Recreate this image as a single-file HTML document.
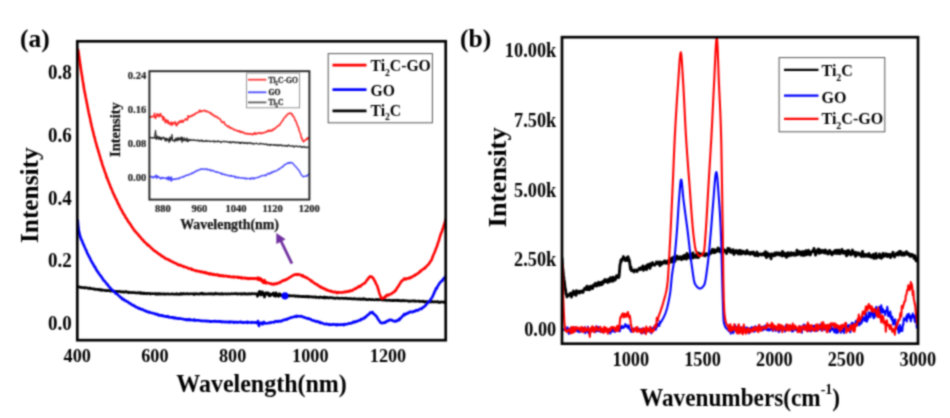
<!DOCTYPE html>
<html><head><meta charset="utf-8"><title>Spectra</title>
<style>html,body{margin:0;padding:0;background:#fff;width:950px;height:418px;overflow:hidden}svg{display:block}</style>
</head><body><svg width="950" height="418" viewBox="0 0 950 418"><defs><filter id="bl" color-interpolation-filters="sRGB" x="0" y="0" width="950" height="418" filterUnits="userSpaceOnUse"><feConvolveMatrix order="5" kernelMatrix="0.00023 0.00332 0.00809 0.00332 0.00023 0.00332 0.04785 0.11640 0.04785 0.00332 0.00809 0.11640 0.28313 0.11640 0.00809 0.00332 0.04785 0.11640 0.04785 0.00332 0.00023 0.00332 0.00809 0.00332 0.00023" edgeMode="duplicate" preserveAlpha="true"/></filter></defs><g filter="url(#bl)"><rect x="0" y="0" width="950" height="418" fill="#fff"/><clipPath id="ca"><rect x="77.3" y="41.3" width="368.4" height="298.9"/></clipPath><clipPath id="cb"><rect x="562" y="37.2" width="356" height="306.5"/></clipPath><clipPath id="ci"><rect x="149.4" y="71.2" width="160" height="128.4"/></clipPath><g clip-path="url(#ca)"><polyline points="77.0,286.8 77.5,286.9 78.0,286.9 78.5,286.8 79.0,287.0 79.5,286.9 80.0,287.2 80.5,287.6 81.0,287.2 81.5,287.3 82.0,287.6 82.5,287.7 83.0,287.7 83.5,287.5 84.0,287.8 84.5,288.0 85.0,287.6 85.5,287.9 86.0,287.6 86.5,287.8 87.0,287.7 87.5,288.2 88.0,288.0 88.5,288.5 89.0,288.5 89.5,288.5 90.0,287.9 90.5,288.5 91.0,288.7 91.5,288.8 92.0,288.5 92.5,288.8 93.0,288.7 93.5,288.8 94.0,289.3 94.5,288.9 95.0,289.2 95.5,289.5 96.0,289.2 96.5,289.4 97.0,289.5 97.5,289.5 98.0,289.3 98.5,289.6 99.0,290.0 99.5,289.4 100.0,290.0 100.5,289.9 101.0,289.7 101.5,290.5 102.0,290.2 102.5,289.8 103.0,290.1 103.5,290.3 104.0,290.2 104.5,290.5 105.0,290.3 105.5,290.6 106.0,290.8 106.5,290.3 107.0,290.6 107.5,290.5 108.0,290.7 108.5,290.4 109.0,290.6 109.5,290.7 110.0,291.1 110.5,291.2 111.0,290.6 111.5,290.8 112.0,291.2 112.5,290.6 113.0,291.0 113.5,291.1 114.0,291.5 114.5,291.4 115.0,291.2 115.5,291.2 116.0,291.3 116.5,291.8 117.0,291.3 117.5,291.4 118.0,291.6 118.5,291.5 119.0,291.5 119.5,291.3 120.0,291.6 120.5,291.6 121.0,292.0 121.5,291.9 122.0,291.8 122.5,292.0 123.0,291.8 123.5,292.2 124.0,291.9 124.5,292.1 125.0,291.7 125.5,292.1 126.0,291.7 126.5,291.6 127.0,292.1 127.5,292.0 128.0,292.3 128.5,292.8 129.0,292.1 129.5,292.2 130.0,292.5 130.5,292.6 131.0,292.4 131.5,292.5 132.0,292.7 132.5,292.7 133.0,292.4 133.5,292.6 134.0,292.7 134.5,292.5 135.0,292.8 135.5,292.6 136.0,293.1 136.5,292.9 137.0,292.9 137.5,292.8 138.0,292.9 138.5,292.5 139.0,292.7 139.5,293.2 140.0,292.6 140.5,293.3 141.0,292.7 141.5,293.4 142.0,293.0 142.5,293.4 143.0,293.3 143.5,292.9 144.0,293.7 144.5,293.7 145.0,293.4 145.5,293.4 146.0,293.4 146.5,293.2 147.0,293.8 147.5,293.4 148.0,293.5 148.5,293.4 149.0,293.4 149.5,293.3 150.0,294.0 150.5,293.6 151.0,293.9 151.5,293.7 152.0,293.6 152.5,293.7 153.0,293.6 153.5,293.8 154.0,293.7 154.5,293.7 155.0,293.5 155.5,293.7 156.0,294.3 156.5,293.7 157.0,293.6 157.5,294.0 158.0,294.3 158.5,293.6 159.0,293.9 159.5,293.8 160.0,293.5 160.5,294.2 161.0,294.0 161.5,294.0 162.0,293.8 162.5,294.1 163.0,293.9 163.5,294.0 164.0,293.7 164.5,293.7 165.0,294.3 165.5,293.9 166.0,294.1 166.5,294.0 167.0,293.9 167.5,293.9 168.0,294.2 168.5,293.9 169.0,294.0 169.5,294.0 170.0,294.3 170.5,294.2 171.0,294.1 171.5,293.9 172.0,293.7 172.5,294.2 173.0,294.2 173.5,294.0 174.0,294.1 174.5,294.2 175.0,294.2 175.5,294.2 176.0,293.9 176.5,294.4 177.0,293.7 177.5,294.2 178.0,294.1 178.5,294.2 179.0,294.5 179.5,294.4 180.0,293.7 180.5,293.6 181.0,294.2 181.5,293.7 182.0,294.0 182.5,294.2 183.0,293.6 183.5,293.4 184.0,294.0 184.5,294.0 185.0,293.9 185.5,294.0 186.0,293.8 186.5,293.6 187.0,293.9 187.5,293.7 188.0,293.6 188.5,294.1 189.0,293.9 189.5,294.1 190.0,293.7 190.5,293.8 191.0,293.7 191.5,293.7 192.0,294.0 192.5,293.8 193.0,294.0 193.5,294.0 194.0,294.5 194.5,293.6 195.0,294.2 195.5,293.9 196.0,293.9 196.5,293.6 197.0,293.8 197.5,294.1 198.0,293.9 198.5,294.0 199.0,293.9 199.5,294.2 200.0,293.9 200.5,293.4 201.0,293.8 201.5,293.4 202.0,293.1 202.5,293.8 203.0,294.3 203.5,293.9 204.0,293.6 204.5,293.7 205.0,294.2 205.5,294.0 206.0,293.9 206.5,293.9 207.0,293.9 207.5,294.1 208.0,294.0 208.5,294.0 209.0,293.6 209.5,294.0 210.0,293.7 210.5,294.2 211.0,293.6 211.5,293.9 212.0,293.9 212.5,293.6 213.0,294.3 213.5,294.3 214.0,293.8 214.5,294.1 215.0,294.0 215.5,293.2 216.0,293.9 216.5,293.9 217.0,293.9 217.5,293.6 218.0,293.8 218.5,293.8 219.0,294.2 219.5,293.9 220.0,293.9 220.5,294.2 221.0,293.7 221.5,293.8 222.0,293.4 222.5,294.2 223.0,294.1 223.5,294.1 224.0,294.0 224.5,293.9 225.0,293.9 225.5,293.8 226.0,293.8 226.5,293.9 227.0,294.2 227.5,294.0 228.0,293.8 228.5,293.7 229.0,293.7 229.5,294.2 230.0,294.0 230.5,293.9 231.0,293.7 231.5,293.6 232.0,293.8 232.5,294.0 233.0,293.7 233.5,293.8 234.0,293.8 234.5,293.9 235.0,293.4 235.5,293.8 236.0,293.6 236.5,294.0 237.0,293.6 237.5,294.0 238.0,294.2 238.5,293.7 239.0,293.7 239.5,293.9 240.0,293.8 240.5,293.6 241.0,293.9 241.5,294.3 242.0,293.7 242.5,293.8 243.0,293.5 243.5,293.9 244.0,293.5 244.5,293.5 245.0,294.1 245.5,293.6 246.0,294.1 246.5,294.2 247.0,293.9 247.5,293.9 248.0,294.3 248.5,293.8 249.0,293.7 249.5,293.5 250.0,293.8 250.5,294.2 251.0,294.0 251.5,293.6 252.0,293.6 252.5,293.7 253.0,293.9 253.5,293.7 254.0,293.9 254.5,293.9 255.0,293.7 255.5,293.8 256.0,293.9 256.5,293.8 257.0,294.5 257.5,296.3 258.0,294.6 258.5,293.9 259.0,291.7 259.5,294.4 260.0,291.4 260.5,292.1 261.0,295.1 261.5,294.9 262.0,293.8 262.5,291.8 263.0,293.6 263.5,293.2 264.0,295.0 264.5,297.1 265.0,294.5 265.5,293.2 266.0,292.7 266.5,294.2 267.0,294.1 267.5,292.9 268.0,294.5 268.5,292.9 269.0,295.9 269.5,295.9 270.0,295.9 270.5,294.0 271.0,295.3 271.5,294.5 272.0,294.2 272.5,294.3 273.0,293.1 273.5,292.9 274.0,295.9 274.5,294.6 275.0,295.2 275.5,296.3 276.0,292.7 276.5,294.0 277.0,295.3 277.5,295.6 278.0,294.7 278.5,296.5 279.0,295.5 279.5,293.7 280.0,294.1 280.5,295.5 281.0,295.5 281.5,294.9 282.0,295.8 282.5,295.6 283.0,295.8 283.5,295.4 284.0,295.5 284.5,295.3 285.0,296.2 285.5,295.6 286.0,296.1 286.5,295.5 287.0,295.7 287.5,295.3 288.0,295.7 288.5,296.0 289.0,295.5 289.5,296.1 290.0,296.0 290.5,295.6 291.0,295.8 291.5,295.8 292.0,296.0 292.5,295.9 293.0,295.8 293.5,296.0 294.0,295.8 294.5,295.8 295.0,296.1 295.5,296.4 296.0,295.8 296.5,296.2 297.0,296.1 297.5,296.0 298.0,296.5 298.5,296.2 299.0,296.7 299.5,296.2 300.0,296.5 300.5,296.4 301.0,296.3 301.5,296.6 302.0,296.5 302.5,296.7 303.0,296.5 303.5,296.3 304.0,296.6 304.5,296.6 305.0,296.9 305.5,296.4 306.0,296.7 306.5,296.3 307.0,296.9 307.5,296.5 308.0,296.3 308.5,296.8 309.0,297.1 309.5,296.5 310.0,296.6 310.5,296.7 311.0,296.7 311.5,297.1 312.0,296.8 312.5,296.8 313.0,297.2 313.5,296.9 314.0,297.2 314.5,296.9 315.0,296.8 315.5,296.7 316.0,297.7 316.5,297.1 317.0,297.3 317.5,297.3 318.0,297.3 318.5,297.3 319.0,297.8 319.5,297.1 320.0,297.0 320.5,297.2 321.0,297.1 321.5,297.6 322.0,297.7 322.5,297.3 323.0,297.2 323.5,297.5 324.0,297.9 324.5,296.9 325.0,297.8 325.5,297.4 326.0,297.9 326.5,297.4 327.0,297.6 327.5,297.4 328.0,297.5 328.5,298.1 329.0,298.0 329.5,297.7 330.0,297.6 330.5,297.4 331.0,297.8 331.5,297.9 332.0,297.9 332.5,297.9 333.0,297.7 333.5,298.0 334.0,298.0 334.5,298.4 335.0,298.5 335.5,298.1 336.0,297.9 336.5,298.1 337.0,298.0 337.5,298.0 338.0,298.2 338.5,298.0 339.0,298.4 339.5,298.3 340.0,298.4 340.5,298.3 341.0,298.2 341.5,298.1 342.0,298.3 342.5,298.3 343.0,298.5 343.5,298.4 344.0,298.1 344.5,298.5 345.0,298.2 345.5,298.4 346.0,298.5 346.5,298.1 347.0,298.6 347.5,298.7 348.0,298.6 348.5,298.6 349.0,298.6 349.5,298.5 350.0,298.7 350.5,298.6 351.0,298.8 351.5,298.5 352.0,298.9 352.5,298.9 353.0,298.8 353.5,298.8 354.0,299.0 354.5,298.5 355.0,299.0 355.5,299.0 356.0,299.0 356.5,299.1 357.0,298.8 357.5,299.0 358.0,299.2 358.5,299.2 359.0,299.1 359.5,298.7 360.0,299.3 360.5,299.4 361.0,299.4 361.5,299.2 362.0,298.8 362.5,299.4 363.0,299.2 363.5,298.6 364.0,299.4 364.5,298.9 365.0,299.0 365.5,299.2 366.0,299.7 366.5,299.3 367.0,299.4 367.5,299.8 368.0,299.8 368.5,299.4 369.0,299.4 369.5,299.2 370.0,299.3 370.5,299.6 371.0,299.6 371.5,299.6 372.0,299.8 372.5,299.4 373.0,299.6 373.5,299.8 374.0,299.8 374.5,299.9 375.0,299.8 375.5,299.6 376.0,299.8 376.5,299.5 377.0,299.3 377.5,299.9 378.0,299.8 378.5,299.9 379.0,299.4 379.5,299.7 380.0,299.7 380.5,299.7 381.0,299.3 381.5,299.8 382.0,300.1 382.5,300.0 383.0,299.8 383.5,300.0 384.0,300.2 384.5,299.3 385.0,300.0 385.5,300.2 386.0,300.2 386.5,300.5 387.0,300.4 387.5,300.2 388.0,300.2 388.5,300.4 389.0,300.0 389.5,300.2 390.0,300.4 390.5,300.7 391.0,300.2 391.5,300.2 392.0,300.3 392.5,300.6 393.0,300.3 393.5,300.7 394.0,300.1 394.5,300.3 395.0,300.3 395.5,300.6 396.0,300.7 396.5,300.1 397.0,300.2 397.5,300.6 398.0,300.3 398.5,300.1 399.0,300.8 399.5,300.7 400.0,300.7 400.5,300.5 401.0,300.9 401.5,300.6 402.0,300.9 402.5,300.4 403.0,300.5 403.5,300.7 404.0,300.5 404.5,300.9 405.0,300.8 405.5,300.5 406.0,300.8 406.5,300.7 407.0,301.0 407.5,300.7 408.0,300.7 408.5,301.2 409.0,301.4 409.5,301.4 410.0,300.9 410.5,301.0 411.0,301.3 411.5,300.9 412.0,300.8 412.5,301.0 413.0,301.1 413.5,300.8 414.0,300.7 414.5,300.7 415.0,301.3 415.5,300.9 416.0,301.1 416.5,301.2 417.0,301.3 417.5,301.1 418.0,301.3 418.5,301.0 419.0,301.2 419.5,301.0 420.0,301.6 420.5,301.3 421.0,301.2 421.5,301.3 422.0,301.3 422.5,301.6 423.0,301.0 423.5,301.2 424.0,301.4 424.5,302.1 425.0,301.7 425.5,301.5 426.0,301.7 426.5,302.1 427.0,301.5 427.5,301.5 428.0,301.9 428.5,301.8 429.0,301.8 429.5,301.6 430.0,302.2 430.5,302.1 431.0,301.9 431.5,301.9 432.0,301.3 432.5,302.0 433.0,301.8 433.5,302.0 434.0,302.0 434.5,301.8 435.0,301.5 435.5,302.0 436.0,301.8 436.5,301.9 437.0,301.8 437.5,301.9 438.0,301.5 438.5,302.4 439.0,302.1 439.5,302.4 440.0,302.6 440.5,302.1 441.0,301.7 441.5,302.0 442.0,301.9 442.5,302.1 443.0,302.3 443.5,301.8 444.0,302.4 444.5,301.9 445.0,302.4 445.5,302.3 446.0,302.3" fill="none" stroke="#000" stroke-width="2.6" stroke-linejoin="round" stroke-linecap="round" /><polyline points="77.8,220.4 78.3,227.0 78.8,230.6 79.3,232.7 79.8,234.9 80.3,236.8 80.8,238.2 81.3,239.4 81.8,240.5 82.3,241.4 82.8,243.1 83.3,244.0 83.8,245.1 84.3,246.3 84.8,247.5 85.3,248.5 85.8,249.7 86.3,250.5 86.8,251.8 87.3,253.5 87.8,254.0 88.3,255.0 88.8,256.2 89.3,257.2 89.8,257.7 90.3,258.9 90.8,260.2 91.3,260.9 91.8,261.8 92.3,263.1 92.8,263.4 93.3,264.5 93.8,265.2 94.3,266.6 94.8,266.6 95.3,267.8 95.8,268.6 96.3,269.7 96.8,270.5 97.3,271.5 97.8,271.5 98.3,272.9 98.8,273.3 99.3,274.0 99.8,275.0 100.3,275.4 100.8,275.8 101.3,276.9 101.8,277.3 102.3,278.2 102.8,279.1 103.3,279.8 103.8,280.7 104.3,280.9 104.8,281.2 105.3,282.0 105.8,282.6 106.3,283.1 106.8,284.1 107.3,284.4 107.8,284.7 108.3,285.9 108.8,286.3 109.3,286.9 109.8,287.4 110.3,288.1 110.8,288.4 111.3,289.3 111.8,289.6 112.3,290.1 112.8,290.6 113.3,290.6 113.8,291.4 114.3,291.8 114.8,292.4 115.3,292.5 115.8,293.7 116.3,293.7 116.8,293.8 117.3,294.1 117.8,294.9 118.3,295.4 118.8,295.6 119.3,296.3 119.8,296.5 120.3,297.2 120.8,297.2 121.3,297.8 121.8,298.4 122.3,299.2 122.8,298.7 123.3,299.1 123.8,299.4 124.3,300.2 124.8,300.0 125.3,300.5 125.8,301.0 126.3,301.1 126.8,301.4 127.3,301.8 127.8,301.7 128.3,302.2 128.8,302.8 129.3,303.2 129.8,303.4 130.3,303.3 130.8,303.9 131.3,304.5 131.8,304.8 132.3,304.9 132.8,304.9 133.3,305.6 133.8,305.5 134.3,305.7 134.8,306.0 135.3,306.8 135.8,306.8 136.3,307.2 136.8,307.1 137.3,307.7 137.8,307.5 138.3,307.8 138.8,308.7 139.3,308.5 139.8,308.4 140.3,308.7 140.8,309.1 141.3,309.5 141.8,309.3 142.3,309.2 142.8,309.7 143.3,310.0 143.8,310.2 144.3,310.7 144.8,310.6 145.3,310.9 145.8,310.7 146.3,311.3 146.8,311.8 147.3,311.7 147.8,311.7 148.3,311.8 148.8,312.4 149.3,311.9 149.8,312.3 150.3,312.6 150.8,312.8 151.3,312.7 151.8,313.0 152.3,313.0 152.8,313.2 153.3,313.3 153.8,313.2 154.3,313.6 154.8,314.0 155.3,313.7 155.8,314.0 156.3,314.4 156.8,314.1 157.3,314.5 157.8,314.3 158.3,315.0 158.8,315.4 159.3,315.5 159.8,315.0 160.3,315.4 160.8,315.3 161.3,315.4 161.8,315.9 162.3,315.3 162.8,316.0 163.3,315.9 163.8,316.3 164.3,316.1 164.8,316.0 165.3,316.3 165.8,316.6 166.3,316.5 166.8,316.7 167.3,316.5 167.8,316.2 168.3,317.1 168.8,317.1 169.3,317.1 169.8,317.1 170.3,317.5 170.8,317.2 171.3,317.2 171.8,317.4 172.3,317.8 172.8,317.3 173.3,318.0 173.8,317.6 174.3,317.6 174.8,318.3 175.3,318.0 175.8,317.8 176.3,318.1 176.8,318.5 177.3,318.6 177.8,318.3 178.3,318.6 178.8,318.7 179.3,318.4 179.8,318.7 180.3,318.7 180.8,318.6 181.3,318.7 181.8,318.9 182.3,319.0 182.8,318.9 183.3,319.0 183.8,319.4 184.3,319.3 184.8,319.5 185.3,319.6 185.8,319.5 186.3,320.0 186.8,319.3 187.3,319.7 187.8,319.5 188.3,320.1 188.8,320.1 189.3,319.2 189.8,319.5 190.3,320.0 190.8,320.1 191.3,320.1 191.8,319.9 192.3,320.1 192.8,320.2 193.3,320.1 193.8,320.4 194.3,319.6 194.8,320.4 195.3,320.0 195.8,320.5 196.3,320.3 196.8,320.2 197.3,320.5 197.8,320.2 198.3,320.3 198.8,320.1 199.3,320.6 199.8,320.7 200.3,320.9 200.8,320.6 201.3,321.0 201.8,320.8 202.3,320.8 202.8,321.0 203.3,321.1 203.8,320.8 204.3,320.8 204.8,320.9 205.3,321.0 205.8,320.8 206.3,321.3 206.8,321.0 207.3,321.2 207.8,320.9 208.3,321.2 208.8,321.3 209.3,321.1 209.8,321.7 210.3,321.3 210.8,321.7 211.3,321.5 211.8,321.2 212.3,321.3 212.8,321.5 213.3,321.4 213.8,321.4 214.3,321.4 214.8,321.0 215.3,321.4 215.8,321.0 216.3,321.6 216.8,321.4 217.3,321.4 217.8,321.5 218.3,321.7 218.8,321.3 219.3,321.2 219.8,321.4 220.3,321.2 220.8,321.5 221.3,322.1 221.8,321.5 222.3,321.9 222.8,321.5 223.3,321.9 223.8,321.8 224.3,321.8 224.8,322.0 225.3,322.3 225.8,321.9 226.3,321.9 226.8,321.7 227.3,322.1 227.8,321.9 228.3,322.2 228.8,322.0 229.3,322.4 229.8,321.5 230.3,322.0 230.8,322.3 231.3,322.0 231.8,321.9 232.3,322.0 232.8,321.8 233.3,322.1 233.8,322.7 234.3,322.4 234.8,321.9 235.3,322.0 235.8,322.1 236.3,322.4 236.8,322.0 237.3,322.0 237.8,322.4 238.3,322.5 238.8,322.2 239.3,322.0 239.8,321.9 240.3,322.1 240.8,321.7 241.3,322.5 241.8,322.2 242.3,322.4 242.8,322.8 243.3,322.6 243.8,322.1 244.3,322.6 244.8,322.7 245.3,322.2 245.8,322.2 246.3,322.4 246.8,322.0 247.3,322.8 247.8,321.8 248.3,322.2 248.8,322.4 249.3,322.4 249.8,322.5 250.3,322.5 250.8,322.4 251.3,322.8 251.8,322.0 252.3,322.5 252.8,322.3 253.3,322.5 253.8,322.6 254.3,322.3 254.8,322.4 255.5,322.7 256.0,322.6 256.5,322.4 257.0,323.1 257.5,323.3 258.0,321.0 258.5,323.2 259.0,326.0 259.5,324.0 260.0,323.5 260.5,323.0 261.0,322.7 261.5,323.1 262.0,322.7 262.5,324.3 263.0,322.9 263.5,322.8 264.0,321.9 264.5,323.3 265.0,323.1 265.5,323.2 266.0,323.5 266.5,323.3 267.0,323.2 267.5,323.2 268.0,323.0 268.5,322.9 269.0,322.8 269.5,323.0 270.0,322.5 270.5,323.0 271.0,322.6 271.5,322.3 272.0,322.3 272.5,322.2 273.0,322.3 273.5,322.0 274.0,322.4 274.5,321.8 275.0,321.3 275.5,321.6 276.0,321.2 276.5,321.6 277.0,321.8 277.5,321.6 278.0,321.0 278.5,321.1 279.0,321.6 279.5,321.2 280.0,321.0 280.5,321.2 281.0,321.4 281.5,321.0 282.0,320.6 282.5,320.5 283.0,320.5 283.5,320.0 284.0,319.8 284.5,319.9 285.0,319.5 285.5,319.5 286.0,319.4 286.5,319.8 287.0,318.8 287.5,318.8 288.0,318.7 288.5,318.6 289.0,318.6 289.5,318.1 290.0,317.8 290.5,317.5 291.0,317.5 291.5,317.7 292.0,317.4 292.5,317.0 293.0,317.0 293.5,317.0 294.0,317.0 294.5,316.6 295.0,316.6 295.5,316.1 296.0,316.2 296.5,316.8 297.0,315.8 297.5,316.3 298.0,316.4 298.5,316.2 299.0,316.1 299.5,316.3 300.0,316.4 300.5,316.4 301.0,316.0 301.5,316.5 302.0,316.4 302.5,316.6 303.0,317.0 303.5,317.2 304.0,317.4 304.5,317.2 305.0,317.7 305.5,317.9 306.0,318.1 306.5,318.3 307.0,318.1 307.5,318.3 308.0,318.8 308.5,318.4 309.0,319.0 309.5,319.0 310.0,319.2 310.5,319.1 311.0,319.5 311.5,319.9 312.0,320.3 312.5,320.5 313.0,320.4 313.5,320.5 314.0,320.5 314.5,321.0 315.0,320.9 315.5,321.3 316.0,321.7 316.5,321.4 317.0,321.2 317.5,321.5 318.0,321.5 318.5,321.7 319.0,322.5 319.5,322.3 320.0,322.1 320.5,322.8 321.0,323.1 321.5,322.8 322.0,322.9 322.5,323.1 323.0,323.4 323.5,323.6 324.0,323.9 324.5,324.0 325.0,324.1 325.5,324.3 326.0,324.2 326.5,323.7 327.0,324.2 327.5,324.3 328.0,324.2 328.5,324.6 329.0,324.4 329.5,324.2 330.0,324.9 330.5,324.7 331.0,324.6 331.5,324.8 332.0,324.8 332.5,324.7 333.0,324.0 333.5,324.4 334.0,324.5 334.5,324.4 335.0,324.7 335.5,325.0 336.0,324.5 336.5,324.4 337.0,325.2 337.5,324.6 338.0,324.4 338.5,324.8 339.0,324.8 339.5,324.5 340.0,324.9 340.5,324.6 341.0,324.5 341.5,324.7 342.0,324.8 342.5,324.4 343.0,324.6 343.5,324.5 344.0,325.1 344.5,324.2 345.0,324.6 345.5,324.2 346.0,324.1 346.5,324.2 347.0,324.2 347.5,324.1 348.0,323.8 348.5,323.5 349.0,323.3 349.5,323.5 350.0,323.4 350.5,323.4 351.0,323.1 351.5,323.1 352.0,323.1 352.5,322.6 353.0,322.0 353.5,321.9 354.0,321.7 354.5,322.3 355.0,321.6 355.5,321.9 356.0,321.6 356.5,321.7 357.0,321.4 357.5,321.0 358.0,320.8 358.5,320.7 359.0,320.5 359.5,320.2 360.0,320.1 360.5,320.3 361.0,319.2 361.5,319.5 362.0,318.9 362.5,319.0 363.0,318.9 363.5,318.3 364.0,318.3 364.5,317.4 365.0,317.8 365.5,317.0 366.0,316.9 366.5,316.4 367.0,315.2 367.5,315.2 368.0,314.9 368.5,314.7 369.0,313.9 369.5,313.5 370.0,312.7 370.5,313.1 371.0,312.9 371.5,312.3 372.0,312.2 372.5,312.0 373.0,313.0 373.5,313.8 374.0,313.9 374.5,314.6 375.0,315.0 375.5,315.2 376.0,316.3 376.5,316.3 377.0,317.2 377.5,318.1 378.0,319.1 378.5,319.8 379.0,320.6 379.5,321.1 380.0,321.7 380.5,322.6 381.0,322.9 381.5,323.0 382.0,323.1 382.5,323.2 383.0,322.8 383.5,322.7 384.0,322.5 384.5,322.7 385.0,322.5 385.5,322.6 386.0,321.4 386.5,321.3 387.0,321.4 387.5,320.8 388.0,320.5 388.5,320.8 389.0,320.1 389.5,319.8 390.0,319.7 390.5,320.1 391.0,320.2 391.5,319.9 392.0,320.1 392.5,320.7 393.0,320.9 393.5,320.8 394.0,321.3 394.5,321.4 395.0,320.9 395.5,321.3 396.0,321.4 396.5,321.0 397.0,320.4 397.5,320.6 398.0,320.5 398.5,320.4 399.0,319.0 399.5,319.8 400.0,318.3 400.5,318.4 401.0,318.0 401.5,317.4 402.0,316.7 402.5,315.9 403.0,315.9 403.5,315.1 404.0,314.2 404.5,315.2 405.0,314.4 405.5,314.4 406.0,313.5 406.5,313.9 407.0,313.7 407.5,313.5 408.0,313.0 408.5,312.5 409.0,312.6 409.5,311.9 410.0,311.9 410.5,312.2 411.0,311.8 411.5,311.9 412.0,311.8 412.5,312.2 413.0,311.9 413.5,311.4 414.0,311.6 414.5,311.0 415.0,310.9 415.5,311.1 416.0,310.4 416.5,310.5 417.0,310.1 417.5,310.3 418.0,310.5 418.5,309.7 419.0,309.7 419.5,309.2 420.0,309.0 420.5,308.7 421.0,309.1 421.5,309.0 422.0,308.3 422.5,307.6 423.0,307.6 423.5,307.0 424.0,306.9 424.5,306.4 425.0,305.9 425.5,305.6 426.0,304.8 426.5,304.3 427.0,303.5 427.5,303.3 428.0,302.5 428.5,302.3 429.0,301.5 429.5,301.1 430.0,300.6 430.5,299.5 431.0,298.9 431.5,298.1 432.0,297.6 432.5,296.8 433.0,295.6 433.5,294.2 434.0,293.6 434.5,291.7 435.0,291.4 435.5,289.9 436.0,288.4 436.5,288.9 437.0,287.8 437.5,286.3 438.0,285.8 438.5,285.0 439.0,284.3 439.5,283.1 440.0,282.6 440.5,282.3 441.0,281.6 441.5,281.2 442.0,280.5 442.5,280.6 443.0,279.3 443.5,279.1 444.0,278.1 444.5,277.7 445.0,277.8 445.5,276.5 446.0,276.1" fill="none" stroke="#0000ff" stroke-width="2.6" stroke-linejoin="round" stroke-linecap="round" /><polyline points="78.2,49.9 78.7,53.4 79.2,57.2 79.7,60.7 80.2,64.2 80.7,67.8 81.2,71.1 81.7,74.0 82.2,77.0 82.7,80.4 83.2,83.3 83.7,86.5 84.2,89.8 84.7,92.1 85.2,94.6 85.7,97.3 86.2,99.7 86.7,102.3 87.2,104.8 87.7,107.4 88.2,109.9 88.7,112.5 89.2,114.6 89.7,116.9 90.2,119.0 90.7,121.9 91.2,123.8 91.7,126.3 92.2,128.1 92.7,130.4 93.2,132.0 93.7,134.2 94.2,136.7 94.7,137.6 95.2,140.2 95.7,142.2 96.2,143.7 96.7,145.6 97.2,147.5 97.7,148.8 98.2,150.8 98.7,152.2 99.2,154.0 99.7,155.7 100.2,157.4 100.7,159.1 101.2,160.8 101.7,161.9 102.2,164.3 102.7,165.6 103.2,167.0 103.7,168.2 104.2,169.8 104.7,171.4 105.2,172.8 105.7,173.6 106.2,175.6 106.7,177.6 107.2,177.7 107.7,179.8 108.2,180.9 108.7,182.1 109.2,183.7 109.7,184.3 110.2,185.9 110.7,187.5 111.2,188.3 111.7,189.4 112.2,190.7 112.7,191.8 113.2,193.4 113.7,193.9 114.2,195.5 114.7,196.0 115.2,197.6 115.7,198.5 116.2,198.9 116.7,200.6 117.2,201.4 117.7,202.6 118.2,204.1 118.7,204.4 119.2,205.4 119.7,207.0 120.2,207.6 120.7,208.9 121.2,209.5 121.7,210.2 122.2,211.3 122.7,212.5 123.2,213.3 123.7,213.9 124.2,214.8 124.7,215.6 125.2,216.3 125.7,217.8 126.2,218.1 126.7,218.6 127.2,219.6 127.7,220.7 128.2,221.5 128.7,222.0 129.2,222.6 129.7,223.6 130.2,223.9 130.7,224.7 131.2,225.9 131.7,226.3 132.2,227.2 132.7,228.1 133.2,228.7 133.7,229.2 134.2,230.4 134.7,230.7 135.2,231.1 135.7,232.0 136.2,232.5 136.7,232.8 137.2,233.7 137.7,234.2 138.2,234.4 138.7,235.4 139.2,236.0 139.7,236.5 140.2,236.8 140.7,237.7 141.2,238.3 141.7,238.9 142.2,239.1 142.7,240.1 143.2,240.1 143.7,240.9 144.2,241.8 144.7,241.8 145.2,242.3 145.7,243.2 146.2,243.4 146.7,243.9 147.2,244.5 147.7,245.2 148.2,244.8 148.7,245.6 149.2,246.0 149.7,246.4 150.2,246.9 150.7,247.4 151.2,248.1 151.7,248.2 152.2,248.9 152.7,249.4 153.2,249.5 153.7,250.1 154.2,250.9 154.7,250.9 155.2,251.1 155.7,251.6 156.2,251.8 156.7,252.4 157.2,252.9 157.7,252.9 158.2,253.4 158.7,254.1 159.2,254.0 159.7,254.5 160.2,254.6 160.7,255.0 161.2,255.4 161.7,256.4 162.2,256.0 162.7,256.3 163.2,256.6 163.7,257.0 164.2,257.6 164.7,257.7 165.2,258.5 165.7,258.3 166.2,258.9 166.7,258.9 167.2,259.3 167.7,259.1 168.2,259.7 168.7,260.0 169.2,260.2 169.7,260.0 170.2,261.0 170.7,260.9 171.2,261.2 171.7,261.5 172.2,261.7 172.7,262.1 173.2,262.0 173.7,262.3 174.2,262.8 174.7,263.0 175.2,263.1 175.7,263.3 176.2,263.5 176.7,263.9 177.2,264.4 177.7,264.1 178.2,264.9 178.7,265.0 179.2,264.9 179.7,265.4 180.2,265.0 180.7,265.1 181.2,265.5 181.7,265.9 182.2,266.1 182.7,266.2 183.2,266.6 183.7,266.2 184.2,267.0 184.7,266.7 185.2,267.1 185.7,267.3 186.2,267.3 186.7,267.4 187.2,267.7 187.7,268.1 188.2,268.4 188.7,268.6 189.2,268.4 189.7,268.6 190.2,268.7 190.7,269.2 191.2,268.7 191.7,269.7 192.2,269.4 192.7,269.5 193.2,269.9 193.7,270.2 194.2,270.2 194.7,270.5 195.2,270.4 195.7,270.8 196.2,271.0 196.7,270.8 197.2,271.3 197.7,271.1 198.2,271.2 198.7,271.1 199.2,271.4 199.7,271.7 200.2,271.3 200.7,272.0 201.2,272.0 201.7,272.1 202.2,271.6 202.7,272.2 203.2,272.5 203.7,272.3 204.2,272.6 204.7,272.1 205.2,273.0 205.7,272.7 206.2,273.2 206.7,272.7 207.2,273.4 207.7,273.3 208.2,273.6 208.7,273.3 209.2,273.5 209.7,274.3 210.2,273.6 210.7,273.7 211.2,273.9 211.7,273.8 212.2,274.5 212.7,274.7 213.2,274.2 213.7,274.0 214.2,274.8 214.7,274.9 215.2,274.9 215.7,275.0 216.2,274.6 216.7,274.9 217.2,274.6 217.7,274.7 218.2,275.4 218.7,275.0 219.2,275.9 219.7,275.4 220.2,275.3 220.7,275.7 221.2,276.0 221.7,275.8 222.2,275.4 222.7,275.9 223.2,276.2 223.7,275.8 224.2,275.8 224.7,276.3 225.2,276.1 225.7,275.9 226.2,276.1 226.7,276.1 227.2,276.4 227.7,276.4 228.2,276.8 228.7,276.7 229.2,276.2 229.7,276.7 230.2,276.9 230.7,276.9 231.2,277.1 231.7,276.7 232.2,276.7 232.7,277.2 233.2,276.8 233.7,276.5 234.2,277.4 234.7,277.0 235.2,277.1 235.7,276.9 236.2,277.0 236.7,277.1 237.2,277.3 237.7,277.6 238.2,276.9 238.7,277.7 239.2,277.3 239.7,277.4 240.2,277.9 240.7,277.7 241.2,277.4 241.7,278.3 242.2,277.6 242.7,278.0 243.2,278.0 243.7,278.3 244.2,277.9 244.7,278.3 245.2,277.9 245.7,278.4 246.2,278.0 246.7,278.1 247.2,278.7 247.7,278.3 248.2,278.3 248.7,278.9 249.2,278.5 249.7,278.2 250.2,278.6 250.7,278.2 251.2,278.8 251.7,278.8 252.2,278.4 252.7,278.4 253.2,278.7 253.7,278.7 254.2,278.4 254.7,278.9 255.5,278.3 256.0,278.3 256.5,278.4 257.0,278.6 257.5,279.4 258.0,277.7 258.5,280.0 259.0,279.3 259.5,278.9 260.0,278.2 260.5,278.6 261.0,280.6 261.5,279.2 262.0,280.6 262.5,281.9 263.0,282.1 263.5,282.9 264.0,280.8 264.5,280.1 265.0,282.8 265.5,282.1 266.0,283.3 266.5,282.2 267.0,282.6 267.5,282.8 268.0,282.9 268.5,283.0 269.0,283.2 269.5,283.3 270.0,283.5 270.5,283.8 271.0,283.5 271.5,284.2 272.0,283.8 272.5,284.2 273.0,284.0 273.5,283.9 274.0,284.5 274.5,283.9 275.0,283.6 275.5,283.6 276.0,283.6 276.5,284.1 277.0,283.5 277.5,283.5 278.0,282.9 278.5,283.0 279.0,282.9 279.5,283.0 280.0,282.1 280.5,282.2 281.0,281.9 281.5,281.3 282.0,281.3 282.5,281.0 283.0,280.3 283.5,280.8 284.0,280.6 284.5,280.1 285.0,279.7 285.5,280.2 286.0,279.6 286.5,279.6 287.0,279.4 287.5,278.6 288.0,278.7 288.5,278.1 289.0,277.8 289.5,277.5 290.0,277.2 290.5,277.2 291.0,276.6 291.5,276.3 292.0,275.9 292.5,275.8 293.0,275.2 293.5,275.1 294.0,275.0 294.5,274.7 295.0,274.6 295.5,274.3 296.0,274.8 296.5,274.6 297.0,274.3 297.5,274.2 298.0,274.8 298.5,274.4 299.0,274.4 299.5,274.6 300.0,274.7 300.5,275.2 301.0,275.0 301.5,275.8 302.0,275.2 302.5,275.9 303.0,275.7 303.5,276.7 304.0,276.4 304.5,276.7 305.0,277.2 305.5,277.6 306.0,277.2 306.5,277.7 307.0,277.7 307.5,278.3 308.0,278.6 308.5,278.9 309.0,279.1 309.5,279.5 310.0,279.8 310.5,280.5 311.0,281.1 311.5,280.6 312.0,281.4 312.5,281.7 313.0,282.3 313.5,282.3 314.0,282.8 314.5,282.9 315.0,283.7 315.5,283.8 316.0,284.1 316.5,284.5 317.0,284.7 317.5,284.6 318.0,285.5 318.5,285.7 319.0,285.9 319.5,286.5 320.0,286.9 320.5,286.6 321.0,287.0 321.5,287.9 322.0,288.1 322.5,287.8 323.0,288.0 323.5,288.4 324.0,288.7 324.5,288.6 325.0,289.3 325.5,289.1 326.0,289.4 326.5,290.1 327.0,289.8 327.5,290.1 328.0,290.5 328.5,290.7 329.0,290.5 329.5,290.8 330.0,290.7 330.5,291.5 331.0,291.3 331.5,291.0 332.0,291.5 332.5,291.8 333.0,291.8 333.5,292.3 334.0,292.3 334.5,291.9 335.0,292.1 335.5,291.9 336.0,292.4 336.5,292.4 337.0,293.1 337.5,292.5 338.0,292.0 338.5,292.4 339.0,292.6 339.5,292.3 340.0,292.4 340.5,292.5 341.0,292.6 341.5,292.5 342.0,292.3 342.5,292.6 343.0,292.2 343.5,292.2 344.0,291.9 344.5,292.0 345.0,292.2 345.5,291.6 346.0,291.9 346.5,292.0 347.0,291.6 347.5,291.6 348.0,291.2 348.5,291.7 349.0,291.5 349.5,291.2 350.0,290.6 350.5,290.6 351.0,291.0 351.5,291.0 352.0,290.4 352.5,290.4 353.0,289.7 353.5,289.6 354.0,289.4 354.5,289.2 355.0,288.5 355.5,288.8 356.0,288.7 356.5,287.8 357.0,287.5 357.5,287.6 358.0,287.1 358.5,286.4 359.0,286.9 359.5,286.5 360.0,286.0 360.5,286.4 361.0,285.6 361.5,285.1 362.0,284.9 362.5,284.3 363.0,284.0 363.5,284.0 364.0,283.4 364.5,283.0 365.0,283.0 365.5,282.2 366.0,281.5 366.5,280.8 367.0,280.1 367.5,279.6 368.0,278.6 368.5,278.5 369.0,277.3 369.5,277.0 370.0,276.4 370.5,276.5 371.0,276.6 371.5,277.0 372.0,276.8 372.5,277.5 373.0,278.0 373.5,278.7 374.0,279.5 374.5,280.7 375.0,281.2 375.5,282.7 376.0,283.7 376.5,284.6 377.0,285.4 377.5,286.5 378.0,288.8 378.5,289.7 379.0,292.1 379.5,293.6 380.0,294.9 380.5,296.1 381.0,297.7 381.5,298.6 382.0,298.1 382.5,298.2 383.0,298.3 383.5,297.9 384.0,298.0 384.5,297.1 385.0,297.0 385.5,296.2 386.0,296.6 386.5,295.6 387.0,294.9 387.5,295.2 388.0,295.0 388.5,295.3 389.0,294.5 389.5,294.4 390.0,294.3 390.5,294.3 391.0,293.7 391.5,293.7 392.0,293.3 392.5,292.9 393.0,292.7 393.5,292.3 394.0,291.7 394.5,291.8 395.0,290.6 395.5,290.7 396.0,290.0 396.5,289.0 397.0,288.1 397.5,287.4 398.0,286.8 398.5,286.0 399.0,285.1 399.5,284.5 400.0,283.3 400.5,282.8 401.0,281.6 401.5,281.6 402.0,280.8 402.5,280.2 403.0,280.2 403.5,279.8 404.0,278.7 404.5,279.2 405.0,278.7 405.5,279.2 406.0,279.4 406.5,278.5 407.0,278.6 407.5,278.4 408.0,278.4 408.5,278.4 409.0,278.4 409.5,277.7 410.0,278.2 410.5,277.4 411.0,277.5 411.5,277.5 412.0,277.1 412.5,276.4 413.0,276.2 413.5,276.0 414.0,275.8 414.5,275.8 415.0,274.8 415.5,274.9 416.0,274.6 416.5,274.3 417.0,273.9 417.5,273.8 418.0,273.2 418.5,272.9 419.0,272.5 419.5,272.4 420.0,271.1 420.5,271.6 421.0,270.8 421.5,270.5 422.0,269.9 422.5,269.4 423.0,269.4 423.5,268.9 424.0,268.8 424.5,267.9 425.0,268.2 425.5,267.5 426.0,266.9 426.5,266.3 427.0,265.8 427.5,265.2 428.0,264.8 428.5,264.4 429.0,263.7 429.5,262.7 430.0,262.3 430.5,261.3 431.0,260.6 431.5,260.1 432.0,258.7 432.5,257.3 433.0,255.8 433.5,254.7 434.0,253.4 434.5,252.7 435.0,251.1 435.5,250.0 436.0,248.5 436.5,247.4 437.0,246.4 437.5,244.4 438.0,243.0 438.5,241.4 439.0,240.2 439.5,238.2 440.0,236.6 440.5,235.0 441.0,233.4 441.5,232.4 442.0,231.5 442.5,229.2 443.0,228.3 443.5,226.6 444.0,224.8 444.5,223.4 445.0,221.7 445.5,219.8 446.0,218.5" fill="none" stroke="#ff0000" stroke-width="2.6" stroke-linejoin="round" stroke-linecap="round" /><circle cx="285" cy="295.8" r="3.6" fill="#0000ff"/></g><rect x="77.3" y="41.3" width="368.4" height="298.9" fill="none" stroke="#000" stroke-width="2.7"/><text transform="translate(71.8,330.2) scale(0.95,1)" font-size="20" text-anchor="end" fill="#000" font-family="Liberation Serif" font-weight="bold" >0.0</text><text transform="translate(71.8,267.4) scale(0.95,1)" font-size="20" text-anchor="end" fill="#000" font-family="Liberation Serif" font-weight="bold" >0.2</text><text transform="translate(71.8,204.6) scale(0.95,1)" font-size="20" text-anchor="end" fill="#000" font-family="Liberation Serif" font-weight="bold" >0.4</text><text transform="translate(71.8,141.7) scale(0.95,1)" font-size="20" text-anchor="end" fill="#000" font-family="Liberation Serif" font-weight="bold" >0.6</text><text transform="translate(71.8,78.8) scale(0.95,1)" font-size="20" text-anchor="end" fill="#000" font-family="Liberation Serif" font-weight="bold" >0.8</text><text transform="translate(77.2,362.3) scale(0.96,1)" font-size="19" text-anchor="middle" fill="#000" font-family="Liberation Serif" font-weight="bold" >400</text><text transform="translate(154.9,362.3) scale(0.96,1)" font-size="19" text-anchor="middle" fill="#000" font-family="Liberation Serif" font-weight="bold" >600</text><text transform="translate(232.6,362.3) scale(0.96,1)" font-size="19" text-anchor="middle" fill="#000" font-family="Liberation Serif" font-weight="bold" >800</text><text transform="translate(310.3,362.3) scale(0.96,1)" font-size="19" text-anchor="middle" fill="#000" font-family="Liberation Serif" font-weight="bold" >1000</text><text transform="translate(388.0,362.3) scale(0.96,1)" font-size="19" text-anchor="middle" fill="#000" font-family="Liberation Serif" font-weight="bold" >1200</text><text transform="translate(176.3,391.8) scale(0.922,1)" font-size="26" text-anchor="start" fill="#000" font-family="Liberation Serif" font-weight="bold" >Wavelength(nm)</text><text transform="translate(37.8,243) rotate(-90)" font-size="25.3" font-family="Liberation Serif" font-weight="bold">Intensity</text><text x="20" y="46.7" font-size="25.5" text-anchor="start" fill="#000" font-family="Liberation Serif" font-weight="bold" >(a)</text><rect x="328.2" y="53.6" width="104.2" height="69.2" fill="#fff" stroke="#555" stroke-width="1"/><line x1="332.5" y1="65.2" x2="366.5" y2="65.2" stroke="#ff0000" stroke-width="2.8"/><line x1="332.5" y1="89.7" x2="366.5" y2="89.7" stroke="#0000ff" stroke-width="2.8"/><line x1="332.5" y1="110.9" x2="366.5" y2="110.9" stroke="#000" stroke-width="2.8"/><text transform="translate(370.5,71.4) scale(0.95,1)" font-size="16.5" font-family="Liberation Serif" font-weight="bold" >Ti<tspan font-size="10.2" dy="4.1">2</tspan><tspan dy="-4.1">C-GO</tspan></text><text transform="translate(370.5,95.8) scale(0.95,1)" font-size="16.5" text-anchor="start" fill="#000" font-family="Liberation Serif" font-weight="bold" >GO</text><text transform="translate(370.5,116.2) scale(0.95,1)" font-size="16.5" font-family="Liberation Serif" font-weight="bold" >Ti<tspan font-size="10.2" dy="4.1">2</tspan><tspan dy="-4.1">C</tspan></text><g clip-path="url(#ci)"><polyline points="150.0,116.7 150.5,117.3 151.0,117.1 151.5,116.5 152.0,116.5 152.5,116.6 153.0,116.3 153.5,116.5 154.0,116.7 154.5,113.3 155.0,117.5 155.5,118.4 156.0,116.8 156.5,116.8 157.0,113.8 157.5,115.4 158.0,114.5 158.5,114.8 159.0,116.7 159.5,114.5 160.0,115.4 160.5,113.5 161.0,115.9 161.5,116.6 162.0,116.0 162.5,116.5 163.0,120.1 163.5,116.9 164.0,117.6 164.5,118.4 165.0,121.2 165.5,122.7 166.0,120.9 166.5,119.9 167.0,120.5 167.5,122.6 168.0,120.5 168.5,123.6 169.0,123.9 169.5,122.5 170.0,123.5 170.5,123.8 171.0,125.0 171.5,122.1 172.0,124.9 172.5,123.2 173.0,122.8 173.5,123.9 174.0,123.5 174.5,122.6 175.0,121.8 175.5,122.5 176.0,125.3 176.5,125.8 177.0,124.1 177.5,124.6 178.0,122.4 178.5,122.8 179.0,123.0 179.5,121.2 180.0,121.1 180.5,122.2 181.0,121.5 181.5,120.4 182.0,122.0 182.5,121.0 183.0,122.3 183.5,120.8 184.0,120.2 184.5,120.4 185.0,119.7 185.5,118.8 186.0,118.8 186.5,119.8 187.0,119.4 187.5,119.8 188.0,115.9 188.5,117.1 189.0,116.7 189.5,117.1 190.0,116.1 190.5,116.2 191.0,116.4 191.5,115.9 192.0,115.1 192.5,115.9 193.0,115.5 193.5,114.6 194.0,114.8 194.5,113.9 195.0,114.4 195.5,113.6 196.0,113.1 196.5,113.0 197.0,112.6 197.5,112.7 198.0,112.5 198.5,112.2 199.0,111.7 199.5,110.3 200.0,111.6 200.5,110.6 201.0,111.4 201.5,111.6 202.0,111.1 202.5,110.8 203.0,110.8 203.5,110.8 204.0,110.6 204.5,110.6 205.0,110.5 205.5,111.4 206.0,111.0 206.5,111.6 207.0,111.2 207.5,111.6 208.0,111.7 208.5,112.1 209.0,112.5 209.5,112.6 210.0,112.5 210.5,112.7 211.0,114.0 211.5,113.5 212.0,113.8 212.5,114.9 213.0,115.1 213.5,115.2 214.0,115.1 214.5,116.6 215.0,116.1 215.5,116.5 216.0,116.6 216.5,116.4 217.0,116.7 217.5,117.8 218.0,118.1 218.5,118.2 219.0,118.3 219.5,118.6 220.0,119.4 220.5,119.4 221.0,120.8 221.5,121.4 222.0,122.5 222.5,122.2 223.0,122.1 223.5,122.4 224.0,121.8 224.5,123.4 225.0,124.0 225.5,124.9 226.0,125.1 226.5,125.5 227.0,125.7 227.5,126.3 228.0,126.9 228.5,126.2 229.0,126.7 229.5,126.6 230.0,128.1 230.5,128.2 231.0,128.3 231.5,127.8 232.0,128.6 232.5,128.6 233.0,129.0 233.5,129.1 234.0,129.6 234.5,129.5 235.0,130.2 235.5,130.2 236.0,130.2 236.5,130.4 237.0,130.5 237.5,131.2 238.0,130.9 238.5,131.3 239.0,131.2 239.5,130.9 240.0,132.1 240.5,131.5 241.0,132.3 241.5,132.4 242.0,131.7 242.5,132.2 243.0,132.5 243.5,132.6 244.0,132.6 244.5,133.5 245.0,133.2 245.5,133.6 246.0,133.4 246.5,133.8 247.0,133.5 247.5,133.8 248.0,134.2 248.5,134.0 249.0,133.8 249.5,133.6 250.0,134.1 250.5,134.1 251.0,133.9 251.5,133.7 252.0,134.2 252.5,134.9 253.0,133.8 253.5,134.0 254.0,134.0 254.5,132.7 255.0,133.8 255.5,133.4 256.0,134.2 256.5,133.5 257.0,133.2 257.5,133.4 258.0,133.4 258.5,133.1 259.0,133.2 259.5,132.6 260.0,133.0 260.5,133.3 261.0,133.7 261.5,133.1 262.0,132.8 262.5,133.1 263.0,132.9 263.5,133.1 264.0,132.8 264.5,132.2 265.0,132.2 265.5,132.1 266.0,132.0 266.5,131.9 267.0,131.3 267.5,130.7 268.0,131.2 268.5,130.5 269.0,131.2 269.5,131.0 270.0,130.2 270.5,131.0 271.0,130.9 271.5,130.4 272.0,130.8 272.5,130.6 273.0,129.1 273.5,129.7 274.0,129.2 274.5,128.9 275.0,128.8 275.5,127.8 276.0,127.5 276.5,127.1 277.0,126.7 277.5,126.6 278.0,125.7 278.5,125.4 279.0,125.6 279.5,124.9 280.0,124.7 280.5,123.2 281.0,122.9 281.5,122.2 282.0,121.6 282.5,120.5 283.0,120.3 283.5,119.0 284.0,118.3 284.5,117.6 285.0,117.3 285.5,116.3 286.0,116.4 286.5,115.5 287.0,114.9 287.5,114.3 288.0,114.0 288.5,113.9 289.0,113.5 289.5,113.1 290.0,113.3 290.5,113.1 291.0,113.9 291.5,113.9 292.0,113.8 292.5,115.8 293.0,116.0 293.5,116.3 294.0,117.5 294.5,118.1 295.0,120.3 295.5,120.7 296.0,121.0 296.5,123.0 297.0,123.8 297.5,126.1 298.0,126.4 298.5,127.5 299.0,130.1 299.5,131.5 300.0,132.8 300.5,133.6 301.0,136.1 301.5,138.2 302.0,138.1 302.5,140.5 303.0,140.5 303.5,141.8 304.0,140.9 304.5,140.4 305.0,140.6 305.5,140.0 306.0,139.3 306.5,139.5 307.0,138.7 307.5,137.9 308.0,139.1 308.5,137.8 309.0,137.4 309.5,137.5 310.0,136.4" fill="none" stroke="#ff2a2a" stroke-width="1.6" stroke-linejoin="round" stroke-linecap="round" /><polyline points="150.0,137.2 150.5,137.5 151.0,137.5 151.5,137.8 152.0,138.1 152.5,137.6 153.0,137.9 153.5,138.0 154.0,137.4 154.5,137.9 155.0,137.5 155.5,138.2 156.0,138.6 156.5,137.9 157.0,135.9 157.5,138.1 158.0,136.8 158.5,139.1 159.0,137.8 159.5,136.8 160.0,139.5 160.5,139.2 161.0,137.3 161.5,139.9 162.0,137.8 162.5,137.8 163.0,138.5 163.5,137.2 164.0,137.7 164.5,138.1 165.0,140.7 165.5,140.7 166.0,138.1 166.5,140.9 167.0,138.5 167.5,139.2 168.0,140.0 168.5,139.1 169.0,142.3 169.5,139.1 170.0,137.0 170.5,140.8 171.0,138.3 171.5,138.5 172.0,134.5 172.5,140.5 173.0,140.3 173.5,140.3 174.0,140.6 174.5,141.7 175.0,139.1 175.5,140.6 176.0,138.1 176.5,138.7 177.0,140.9 177.5,139.9 178.0,137.4 178.5,140.0 179.0,139.2 179.5,138.2 180.0,140.2 180.5,138.9 181.0,137.2 181.5,137.9 182.0,142.3 182.5,137.4 183.0,140.0 183.5,140.6 184.0,140.7 184.5,137.9 185.0,139.3 185.5,140.0 186.0,141.0 186.5,138.9 187.0,138.1 187.5,141.4 188.0,141.6 188.5,140.5 189.0,139.1 189.5,140.6 190.0,140.2 190.5,140.4 191.0,139.7 191.5,140.2 192.0,140.1 192.5,139.8 193.0,140.3 193.5,140.2 194.0,140.1 194.5,140.4 195.0,139.8 195.5,140.3 196.0,140.5 196.5,140.5 197.0,140.8 197.5,140.0 198.0,139.9 198.5,140.6 199.0,140.7 199.5,141.3 200.0,140.8 200.5,140.3 201.0,140.9 201.5,140.3 202.0,140.1 202.5,141.6 203.0,140.8 203.5,141.0 204.0,141.0 204.5,141.4 205.0,140.9 205.5,141.3 206.0,140.5 206.5,140.4 207.0,141.4 207.5,141.4 208.0,141.1 208.5,141.1 209.0,141.1 209.5,140.8 210.0,141.6 210.5,141.3 211.0,141.3 211.5,141.3 212.0,141.5 212.5,141.3 213.0,141.5 213.5,140.8 214.0,141.4 214.5,142.0 215.0,141.1 215.5,141.3 216.0,141.7 216.5,141.7 217.0,141.6 217.5,140.9 218.0,141.6 218.5,141.1 219.0,141.2 219.5,141.7 220.0,141.5 220.5,141.9 221.0,142.7 221.5,141.9 222.0,141.9 222.5,141.4 223.0,141.5 223.5,141.4 224.0,141.6 224.5,141.4 225.0,141.6 225.5,141.8 226.0,141.5 226.5,141.4 227.0,141.5 227.5,142.1 228.0,142.0 228.5,142.4 229.0,142.4 229.5,142.0 230.0,142.4 230.5,141.6 231.0,143.0 231.5,142.6 232.0,142.2 232.5,141.9 233.0,142.4 233.5,141.7 234.0,142.1 234.5,142.6 235.0,142.4 235.5,142.3 236.0,142.8 236.5,142.1 237.0,142.6 237.5,142.4 238.0,142.3 238.5,142.8 239.0,142.3 239.5,143.3 240.0,142.5 240.5,143.4 241.0,142.4 241.5,143.0 242.0,142.4 242.5,142.4 243.0,142.9 243.5,143.2 244.0,142.5 244.5,143.4 245.0,142.7 245.5,143.1 246.0,143.2 246.5,143.3 247.0,142.5 247.5,143.7 248.0,143.4 248.5,143.1 249.0,142.9 249.5,142.7 250.0,142.9 250.5,143.6 251.0,143.3 251.5,143.0 252.0,143.3 252.5,144.0 253.0,143.4 253.5,143.3 254.0,144.1 254.5,143.8 255.0,143.7 255.5,143.5 256.0,143.2 256.5,143.3 257.0,143.6 257.5,143.7 258.0,144.0 258.5,144.1 259.0,144.0 259.5,144.0 260.0,143.6 260.5,143.2 261.0,143.8 261.5,143.7 262.0,143.9 262.5,144.0 263.0,143.7 263.5,143.8 264.0,144.2 264.5,144.3 265.0,144.1 265.5,144.5 266.0,144.3 266.5,144.0 267.0,144.4 267.5,145.1 268.0,144.3 268.5,144.9 269.0,145.0 269.5,145.1 270.0,144.3 270.5,145.4 271.0,144.7 271.5,144.6 272.0,144.7 272.5,145.0 273.0,144.8 273.5,144.8 274.0,145.3 274.5,144.7 275.0,144.6 275.5,145.3 276.0,145.3 276.5,145.5 277.0,144.7 277.5,145.5 278.0,145.3 278.5,145.8 279.0,144.8 279.5,145.4 280.0,145.2 280.5,144.8 281.0,145.1 281.5,145.8 282.0,145.3 282.5,145.2 283.0,145.8 283.5,145.9 284.0,145.9 284.5,145.3 285.0,145.6 285.5,146.1 286.0,145.5 286.5,145.5 287.0,146.1 287.5,146.4 288.0,145.5 288.5,145.0 289.0,145.4 289.5,145.6 290.0,146.0 290.5,146.3 291.0,146.0 291.5,145.9 292.0,146.2 292.5,145.9 293.0,146.2 293.5,146.0 294.0,147.2 294.5,146.6 295.0,146.1 295.5,146.1 296.0,146.3 296.5,145.9 297.0,146.3 297.5,146.3 298.0,146.9 298.5,146.5 299.0,146.4 299.5,146.2 300.0,146.3 300.5,146.8 301.0,146.7 301.5,147.3 302.0,146.7 302.5,147.3 303.0,147.1 303.5,147.0 304.0,146.3 304.5,146.6 305.0,147.4 305.5,147.6 306.0,147.3 306.5,147.5 307.0,147.1 307.5,147.2 308.0,147.1 308.5,147.7 309.0,147.5 309.5,147.4 310.0,147.4" fill="none" stroke="#222" stroke-width="1.25" stroke-linejoin="round" stroke-linecap="round" /><polyline points="154.5,138 155.5,130 156.5,140" fill="none" stroke="#222" stroke-width="1.1"/><polyline points="150.0,176.6 150.5,176.5 151.0,176.3 151.5,177.1 152.0,176.7 152.5,176.7 153.0,177.9 153.5,177.6 154.0,176.8 154.5,177.3 155.0,176.1 155.5,176.5 156.0,175.2 156.5,178.1 157.0,175.6 157.5,177.8 158.0,176.6 158.5,176.5 159.0,177.2 159.5,177.7 160.0,178.0 160.5,179.0 161.0,177.9 161.5,178.4 162.0,177.3 162.5,178.4 163.0,178.0 163.5,177.6 164.0,178.0 164.5,178.1 165.0,178.4 165.5,178.6 166.0,178.0 166.5,177.9 167.0,179.2 167.5,177.3 168.0,178.2 168.5,180.0 169.0,176.7 169.5,178.4 170.0,179.5 170.5,177.7 171.0,181.1 171.5,177.0 172.0,180.3 172.5,179.6 173.0,179.5 173.5,179.1 174.0,179.3 174.5,178.9 175.0,179.4 175.5,178.8 176.0,178.9 176.5,179.2 177.0,178.5 177.5,178.6 178.0,178.7 178.5,178.1 179.0,178.7 179.5,178.3 180.0,177.5 180.5,177.8 181.0,177.4 181.5,177.3 182.0,177.3 182.5,176.8 183.0,177.1 183.5,176.4 184.0,176.7 184.5,176.2 185.0,176.3 185.5,175.6 186.0,175.4 186.5,175.0 187.0,175.3 187.5,175.2 188.0,175.4 188.5,174.9 189.0,174.4 189.5,174.1 190.0,174.1 190.5,173.8 191.0,174.1 191.5,173.7 192.0,173.0 192.5,172.8 193.0,173.2 193.5,172.6 194.0,172.2 194.5,172.4 195.0,171.7 195.5,171.5 196.0,171.2 196.5,170.5 197.0,171.1 197.5,170.3 198.0,170.2 198.5,170.0 199.0,170.2 199.5,169.8 200.0,169.6 200.5,169.0 201.0,169.3 201.5,168.8 202.0,169.2 202.5,169.1 203.0,168.9 203.5,169.5 204.0,169.1 204.5,169.1 205.0,169.0 205.5,168.9 206.0,169.3 206.5,169.5 207.0,168.8 207.5,169.7 208.0,169.6 208.5,169.9 209.0,169.9 209.5,169.5 210.0,169.7 210.5,170.8 211.0,170.4 211.5,170.1 212.0,170.8 212.5,170.8 213.0,170.5 213.5,170.5 214.0,170.9 214.5,171.6 215.0,171.7 215.5,171.8 216.0,172.1 216.5,172.3 217.0,171.6 217.5,172.3 218.0,172.3 218.5,172.4 219.0,172.7 219.5,173.0 220.0,173.1 220.5,172.9 221.0,173.3 221.5,174.3 222.0,173.5 222.5,173.5 223.0,174.2 223.5,174.4 224.0,174.5 224.5,174.2 225.0,175.0 225.5,174.6 226.0,174.6 226.5,174.9 227.0,175.2 227.5,175.5 228.0,175.6 228.5,175.5 229.0,175.9 229.5,175.7 230.0,176.1 230.5,175.5 231.0,175.5 231.5,176.4 232.0,175.8 232.5,176.2 233.0,176.4 233.5,176.4 234.0,176.5 234.5,177.2 235.0,176.1 235.5,177.2 236.0,177.7 236.5,177.1 237.0,177.2 237.5,177.5 238.0,178.0 238.5,177.1 239.0,177.6 239.5,177.6 240.0,177.9 240.5,177.9 241.0,178.1 241.5,177.8 242.0,178.1 242.5,177.9 243.0,178.0 243.5,178.2 244.0,178.2 244.5,178.0 245.0,178.9 245.5,178.4 246.0,178.1 246.5,178.8 247.0,178.3 247.5,178.7 248.0,178.6 248.5,178.7 249.0,178.6 249.5,178.4 250.0,178.6 250.5,179.2 251.0,177.9 251.5,178.5 252.0,178.6 252.5,178.1 253.0,177.9 253.5,178.9 254.0,178.0 254.5,178.7 255.0,178.1 255.5,177.8 256.0,177.8 256.5,177.8 257.0,177.8 257.5,177.4 258.0,177.2 258.5,177.1 259.0,177.3 259.5,177.0 260.0,176.3 260.5,176.2 261.0,176.3 261.5,175.9 262.0,175.8 262.5,175.5 263.0,175.5 263.5,175.6 264.0,175.6 264.5,175.2 265.0,175.6 265.5,174.8 266.0,175.7 266.5,174.8 267.0,174.5 267.5,174.0 268.0,173.2 268.5,173.8 269.0,173.7 269.5,174.0 270.0,172.9 270.5,173.6 271.0,172.8 271.5,172.9 272.0,171.7 272.5,172.3 273.0,171.9 273.5,172.0 274.0,171.6 274.5,171.0 275.0,171.4 275.5,171.1 276.0,170.9 276.5,170.8 277.0,170.6 277.5,170.0 278.0,169.3 278.5,169.1 279.0,169.6 279.5,169.1 280.0,168.5 280.5,168.0 281.0,167.8 281.5,167.4 282.0,166.9 282.5,166.4 283.0,166.9 283.5,165.9 284.0,165.3 284.5,164.7 285.0,164.5 285.5,164.6 286.0,164.3 286.5,163.7 287.0,163.5 287.5,163.2 288.0,162.7 288.5,163.2 289.0,162.8 289.5,163.3 290.0,162.3 290.5,162.5 291.0,162.8 291.5,162.6 292.0,162.6 292.5,163.0 293.0,163.7 293.5,164.3 294.0,164.6 294.5,165.5 295.0,166.0 295.5,166.4 296.0,166.9 296.5,167.3 297.0,168.1 297.5,168.8 298.0,169.2 298.5,170.1 299.0,170.6 299.5,171.2 300.0,172.1 300.5,173.5 301.0,174.2 301.5,175.2 302.0,175.4 302.5,176.1 303.0,176.7 303.5,176.8 304.0,176.3 304.5,176.4 305.0,176.4 305.5,176.0 306.0,176.3 306.5,176.2 307.0,175.5 307.5,175.9 308.0,174.8 308.5,174.4 309.0,173.8 309.5,173.0 310.0,172.6" fill="none" stroke="#4444ff" stroke-width="1.35" stroke-linejoin="round" stroke-linecap="round" /></g><rect x="149.4" y="71.2" width="160" height="128.4" fill="none" stroke="#222" stroke-width="1.9"/><text x="146.2" y="181.4" font-size="10.5" text-anchor="end" fill="#1a1a1a" font-family="Liberation Serif" font-weight="bold" stroke="#1a1a1a" stroke-width="0.2">0.00</text><text x="146.2" y="147.2" font-size="10.5" text-anchor="end" fill="#1a1a1a" font-family="Liberation Serif" font-weight="bold" stroke="#1a1a1a" stroke-width="0.2">0.08</text><text x="146.2" y="113.1" font-size="10.5" text-anchor="end" fill="#1a1a1a" font-family="Liberation Serif" font-weight="bold" stroke="#1a1a1a" stroke-width="0.2">0.16</text><text x="146.2" y="78.9" font-size="10.5" text-anchor="end" fill="#1a1a1a" font-family="Liberation Serif" font-weight="bold" stroke="#1a1a1a" stroke-width="0.2">0.24</text><text x="162.8" y="211.9" font-size="10.5" text-anchor="middle" fill="#1a1a1a" font-family="Liberation Serif" font-weight="bold" stroke="#1a1a1a" stroke-width="0.2">880</text><text x="199.4" y="211.9" font-size="10.5" text-anchor="middle" fill="#1a1a1a" font-family="Liberation Serif" font-weight="bold" stroke="#1a1a1a" stroke-width="0.2">960</text><text x="236.0" y="211.9" font-size="10.5" text-anchor="middle" fill="#1a1a1a" font-family="Liberation Serif" font-weight="bold" stroke="#1a1a1a" stroke-width="0.2">1040</text><text x="272.6" y="211.9" font-size="10.5" text-anchor="middle" fill="#1a1a1a" font-family="Liberation Serif" font-weight="bold" stroke="#1a1a1a" stroke-width="0.2">1120</text><text x="309.2" y="211.9" font-size="10.5" text-anchor="middle" fill="#1a1a1a" font-family="Liberation Serif" font-weight="bold" stroke="#1a1a1a" stroke-width="0.2">1200</text><text x="180.2" y="229.1" font-size="13.9" text-anchor="start" fill="#111" font-family="Liberation Serif" font-weight="bold" stroke="#111" stroke-width="0.25">Wavelength(nm)</text><text transform="translate(120.3,157) rotate(-90)" font-size="14.5" fill="#111" stroke="#111" stroke-width="0.25" font-family="Liberation Serif" font-weight="bold">Intensity</text><rect x="246.6" y="73.1" width="53" height="34.7" fill="#fff" stroke="#888" stroke-width="0.9"/><line x1="248" y1="79.7" x2="266.4" y2="79.7" stroke="#ff3030" stroke-width="1.7"/><line x1="248" y1="92.3" x2="266.4" y2="92.3" stroke="#4040ff" stroke-width="1.7"/><line x1="248" y1="102.4" x2="266.4" y2="102.4" stroke="#555" stroke-width="1.7"/><text transform="translate(268.5,82.5) scale(0.9,1)" font-size="8.5" font-family="Liberation Serif" font-weight="bold" fill="#333" stroke="#333" stroke-width="0.35">Ti<tspan font-size="5.3" dy="2.1">2</tspan><tspan dy="-2.1">C-GO</tspan></text><text transform="translate(268.5,94.5) scale(0.9,1)" font-size="8.5" text-anchor="start" fill="#000" font-family="Liberation Serif" font-weight="bold" fill="#333" stroke="#333" stroke-width="0.35">GO</text><text transform="translate(268.5,104.7) scale(0.9,1)" font-size="8.5" font-family="Liberation Serif" font-weight="bold" fill="#333" stroke="#333" stroke-width="0.35">Ti<tspan font-size="5.3" dy="2.1">2</tspan><tspan dy="-2.1">C</tspan></text><line x1="291.9" y1="263.7" x2="280.5" y2="240" stroke="#7030a0" stroke-width="2.8"/><polygon points="276.3,233.1 285.6,239.2 276.3,244" fill="#7030a0"/><g clip-path="url(#cb)"><polyline points="562.0,258.0 562.5,266.3 563.0,270.6 563.5,275.7 564.0,279.7 564.5,282.7 565.0,287.9 565.5,289.4 566.0,294.0 566.5,294.2 567.0,296.9 567.5,295.6 568.0,295.7 568.5,294.9 569.0,294.7 569.5,295.2 570.0,295.4 570.5,293.1 571.0,294.5 571.5,297.1 572.0,293.4 572.5,293.0 573.0,292.3 573.5,291.1 574.0,294.3 574.5,292.7 575.0,292.8 575.5,294.6 576.0,295.3 576.5,290.7 577.0,293.1 577.5,292.4 578.0,292.0 578.5,292.0 579.0,291.2 579.5,293.1 580.0,291.7 580.5,291.2 581.0,292.3 581.5,291.7 582.0,291.0 582.5,290.7 583.0,292.4 583.5,290.6 584.0,289.7 584.5,288.6 585.0,289.1 585.5,288.1 586.0,289.4 586.5,289.5 587.0,286.3 587.5,288.9 588.0,289.5 588.5,288.7 589.0,287.1 589.5,289.8 590.0,287.1 590.5,286.2 591.0,286.2 591.5,287.4 592.0,288.5 592.5,288.5 593.0,287.1 593.5,285.0 594.0,285.5 594.5,284.9 595.0,285.6 595.5,283.3 596.0,285.5 596.5,286.0 597.0,284.7 597.5,285.3 598.0,283.2 598.5,282.3 599.0,283.1 599.5,285.2 600.0,284.8 600.5,282.6 601.0,284.5 601.5,282.3 602.0,284.5 602.5,282.9 603.0,281.5 603.5,282.9 604.0,280.7 604.5,280.3 605.0,279.5 605.5,281.5 606.0,281.0 606.5,280.8 607.0,280.2 607.5,282.5 608.0,279.9 608.5,279.4 609.0,281.8 609.5,281.9 610.0,280.4 610.5,277.6 611.0,278.9 611.5,280.4 612.0,279.4 612.5,281.3 613.0,277.3 613.5,279.8 614.0,277.9 614.5,280.3 615.0,278.3 615.5,279.5 616.0,277.1 616.5,275.8 617.0,276.0 617.5,276.3 618.0,275.4 618.5,277.7 619.0,276.6 619.5,271.4 620.0,265.0 620.5,262.8 621.0,260.0 621.5,261.1 622.0,258.9 622.5,259.2 623.0,258.4 623.5,256.6 624.0,258.6 624.5,258.4 625.0,260.5 625.5,260.0 626.0,258.4 626.5,258.5 627.0,260.6 627.5,256.9 628.0,256.8 628.5,258.4 629.0,259.3 629.5,261.4 630.0,264.9 630.5,269.2 631.0,267.1 631.5,270.7 632.0,270.8 632.5,270.7 633.0,270.5 633.5,270.2 634.0,271.9 634.5,270.0 635.0,270.3 635.5,270.4 636.0,270.5 636.5,270.0 637.0,271.5 637.5,270.1 638.0,270.2 638.5,269.8 639.0,268.4 639.5,268.5 640.0,268.1 640.5,269.5 641.0,268.2 641.5,267.5 642.0,269.0 642.5,269.2 643.0,266.0 643.5,270.3 644.0,267.9 644.5,267.5 645.0,268.8 645.5,267.3 646.0,266.2 646.5,269.6 647.0,265.1 647.5,266.2 648.0,267.2 648.5,264.4 649.0,265.5 649.5,265.9 650.0,268.3 650.5,263.8 651.0,264.7 651.5,265.5 652.0,264.5 652.5,262.7 653.0,264.6 653.5,264.1 654.0,264.4 654.5,265.2 655.0,264.9 655.5,264.0 656.0,263.8 656.5,261.9 657.0,263.1 657.5,263.5 658.0,262.6 658.5,263.2 659.0,261.9 659.5,264.9 660.0,265.6 660.5,262.3 661.0,263.2 661.5,262.3 662.0,264.2 662.5,263.1 663.0,262.6 663.5,262.1 664.0,262.5 664.5,261.0 665.0,263.1 665.5,261.2 666.0,262.7 666.5,262.1 667.0,263.3 667.5,261.8 668.0,263.0 668.5,260.4 669.0,262.3 669.5,261.1 670.0,261.5 670.5,261.1 671.0,262.1 671.5,258.1 672.0,260.9 672.5,258.4 673.0,261.7 673.5,257.3 674.0,258.4 674.5,257.3 675.0,261.4 675.5,257.3 676.0,258.9 676.5,257.9 677.0,256.1 677.5,257.8 678.0,258.9 678.5,257.6 679.0,259.0 679.5,257.1 680.0,257.5 680.5,256.9 681.0,257.8 681.5,259.7 682.0,257.6 682.5,257.3 683.0,256.2 683.5,255.9 684.0,258.7 684.5,255.3 685.0,255.5 685.5,256.5 686.0,256.0 686.5,259.1 687.0,253.4 687.5,256.9 688.0,257.3 688.5,254.8 689.0,255.4 689.5,256.8 690.0,258.3 690.5,254.9 691.0,254.0 691.5,257.3 692.0,257.9 692.5,255.5 693.0,253.0 693.5,257.7 694.0,255.5 694.5,257.2 695.0,255.6 695.5,255.1 696.0,255.0 696.5,257.4 697.0,257.3 697.5,252.6 698.0,254.1 698.5,257.6 699.0,254.7 699.5,253.4 700.0,255.1 700.5,254.9 701.0,254.8 701.5,254.3 702.0,254.4 702.5,254.1 703.0,255.1 703.5,253.5 704.0,254.0 704.5,254.1 705.0,255.9 705.5,254.5 706.0,253.7 706.5,254.4 707.0,254.1 707.5,254.8 708.0,253.9 708.5,255.4 709.0,254.7 709.5,252.7 710.0,252.0 710.5,253.6 711.0,252.9 711.5,252.0 712.0,250.0 712.5,249.4 713.0,252.1 713.5,252.5 714.0,252.4 714.5,249.6 715.0,252.5 715.5,250.4 716.0,251.5 716.5,251.5 717.0,249.8 717.5,250.1 718.0,248.1 718.5,249.6 719.0,248.5 719.5,251.4 720.0,250.9 720.5,252.0 721.0,251.3 721.5,250.0 722.0,251.3 722.5,250.4 723.0,251.7 723.5,251.4 724.0,249.7 724.5,251.0 725.0,251.1 725.5,250.7 726.0,252.3 726.5,253.4 727.0,250.7 727.5,250.8 728.0,248.3 728.5,251.1 729.0,250.8 729.5,248.6 730.0,251.8 730.5,252.3 731.0,250.6 731.5,251.1 732.0,250.4 732.5,252.7 733.0,249.8 733.5,251.4 734.0,254.4 734.5,252.0 735.0,252.6 735.5,251.8 736.0,250.5 736.5,252.1 737.0,252.7 737.5,250.9 738.0,252.7 738.5,254.0 739.0,253.8 739.5,250.4 740.0,251.2 740.5,250.5 741.0,254.0 741.5,253.5 742.0,253.6 742.5,251.6 743.0,251.3 743.5,253.0 744.0,253.1 744.5,251.9 745.0,253.2 745.5,253.9 746.0,253.4 746.5,251.8 747.0,250.4 747.5,252.9 748.0,253.5 748.5,253.0 749.0,252.8 749.5,252.5 750.0,254.3 750.5,253.4 751.0,253.6 751.5,252.2 752.0,252.7 752.5,253.8 753.0,252.3 753.5,252.0 754.0,253.2 754.5,255.2 755.0,253.9 755.5,255.6 756.0,253.6 756.5,253.4 757.0,252.0 757.5,253.1 758.0,255.8 758.5,254.3 759.0,254.9 759.5,254.9 760.0,254.0 760.5,253.8 761.0,254.2 761.5,255.0 762.0,254.7 762.5,254.8 763.0,254.4 763.5,253.2 764.0,253.9 764.5,253.0 765.0,255.6 765.5,251.6 766.0,254.1 766.5,257.5 767.0,254.0 767.5,252.9 768.0,254.4 768.5,256.1 769.0,254.3 769.5,255.3 770.0,254.7 770.5,254.1 771.0,258.7 771.5,254.7 772.0,253.9 772.5,254.0 773.0,255.1 773.5,255.2 774.0,255.7 774.5,254.9 775.0,252.9 775.5,255.4 776.0,254.3 776.5,254.4 777.0,252.8 777.5,254.0 778.0,253.8 778.5,254.7 779.0,252.9 779.5,254.9 780.0,255.0 780.5,253.3 781.0,254.0 781.5,253.7 782.0,256.0 782.5,251.5 783.0,254.3 783.5,252.6 784.0,254.2 784.5,255.8 785.0,253.9 785.5,254.9 786.0,253.6 786.5,257.2 787.0,255.8 787.5,256.1 788.0,252.8 788.5,253.1 789.0,255.9 789.5,254.2 790.0,254.1 790.5,254.8 791.0,252.7 791.5,255.3 792.0,254.3 792.5,254.8 793.0,253.3 793.5,254.8 794.0,253.1 794.5,255.2 795.0,255.4 795.5,255.1 796.0,254.5 796.5,254.6 797.0,250.2 797.5,254.7 798.0,253.2 798.5,253.7 799.0,253.1 799.5,251.6 800.0,252.7 800.5,254.1 801.0,255.1 801.5,252.4 802.0,251.9 802.5,254.9 803.0,251.8 803.5,255.6 804.0,252.9 804.5,251.7 805.0,254.0 805.5,254.9 806.0,250.8 806.5,254.6 807.0,252.1 807.5,254.4 808.0,251.9 808.5,250.3 809.0,252.9 809.5,253.4 810.0,254.9 810.5,254.4 811.0,253.0 811.5,251.7 812.0,251.3 812.5,251.6 813.0,250.8 813.5,251.5 814.0,248.5 814.5,252.0 815.0,251.7 815.5,255.1 816.0,252.7 816.5,251.0 817.0,252.4 817.5,250.0 818.0,250.8 818.5,249.1 819.0,253.4 819.5,252.3 820.0,250.0 820.5,251.4 821.0,252.7 821.5,252.1 822.0,252.0 822.5,250.4 823.0,250.7 823.5,251.6 824.0,252.7 824.5,250.4 825.0,250.1 825.5,253.0 826.0,250.4 826.5,253.0 827.0,251.9 827.5,252.8 828.0,253.9 828.5,252.5 829.0,252.7 829.5,250.5 830.0,250.8 830.5,252.6 831.0,253.8 831.5,253.6 832.0,254.8 832.5,252.3 833.0,252.1 833.5,253.2 834.0,252.0 834.5,251.9 835.0,250.6 835.5,253.3 836.0,250.7 836.5,252.8 837.0,250.3 837.5,253.6 838.0,250.8 838.5,253.3 839.0,250.2 839.5,251.7 840.0,253.8 840.5,251.3 841.0,252.5 841.5,251.8 842.0,249.4 842.5,252.9 843.0,253.1 843.5,251.1 844.0,253.4 844.5,251.6 845.0,251.4 845.5,252.8 846.0,251.9 846.5,255.8 847.0,250.9 847.5,253.9 848.0,254.3 848.5,250.5 849.0,250.9 849.5,253.9 850.0,252.7 850.5,253.8 851.0,254.9 851.5,253.0 852.0,252.2 852.5,250.1 853.0,253.9 853.5,252.5 854.0,254.2 854.5,254.2 855.0,252.2 855.5,256.3 856.0,255.5 856.5,255.3 857.0,252.7 857.5,253.8 858.0,253.7 858.5,253.9 859.0,253.0 859.5,255.1 860.0,254.9 860.5,255.2 861.0,254.1 861.5,256.5 862.0,255.1 862.5,251.4 863.0,254.2 863.5,255.0 864.0,256.4 864.5,254.8 865.0,254.9 865.5,254.5 866.0,256.2 866.5,254.9 867.0,254.7 867.5,254.6 868.0,256.3 868.5,254.9 869.0,253.5 869.5,256.5 870.0,254.9 870.5,256.3 871.0,256.3 871.5,257.4 872.0,257.3 872.5,255.2 873.0,255.8 873.5,254.3 874.0,258.2 874.5,256.6 875.0,257.9 875.5,255.7 876.0,253.4 876.5,258.1 877.0,256.2 877.5,256.3 878.0,256.2 878.5,256.9 879.0,256.8 879.5,254.0 880.0,257.5 880.5,255.3 881.0,255.4 881.5,258.2 882.0,257.1 882.5,255.4 883.0,253.4 883.5,256.0 884.0,256.4 884.5,255.6 885.0,254.0 885.5,254.5 886.0,253.9 886.5,255.7 887.0,256.4 887.5,256.6 888.0,254.3 888.5,255.5 889.0,255.8 889.5,254.4 890.0,254.8 890.5,257.6 891.0,255.1 891.5,255.9 892.0,254.1 892.5,254.6 893.0,252.3 893.5,254.4 894.0,255.9 894.5,257.0 895.0,255.8 895.5,255.1 896.0,254.2 896.5,253.3 897.0,253.8 897.5,254.7 898.0,252.8 898.5,255.0 899.0,252.5 899.5,251.4 900.0,252.3 900.5,251.4 901.0,251.8 901.5,255.0 902.0,253.2 902.5,253.8 903.0,255.0 903.5,255.1 904.0,252.8 904.5,255.1 905.0,253.9 905.5,253.4 906.0,254.0 906.5,251.6 907.0,252.5 907.5,253.5 908.0,254.5 908.5,253.4 909.0,253.8 909.5,255.4 910.0,256.1 910.5,255.4 911.0,256.3 911.5,254.3 912.0,254.6 912.5,255.6 913.0,255.1 913.5,255.2 914.0,258.4 914.5,256.5 915.0,255.9 915.5,258.4 916.0,260.7 916.5,259.0 917.0,261.1 917.5,259.6 918.0,260.2" fill="none" stroke="#000" stroke-width="2.9" stroke-linejoin="round" stroke-linecap="round" /><polyline points="562.3,329.5 562.8,329.5 563.3,329.6 563.8,329.6 564.3,329.7 564.8,329.7 565.3,329.8 565.8,329.8 566.3,330.8 566.8,330.3 567.3,327.4 567.8,330.5 568.3,328.4 568.8,333.8 569.3,329.7 569.8,330.3 570.3,328.3 570.8,329.3 571.3,328.1 571.8,331.5 572.3,329.6 572.8,330.8 573.3,329.0 573.8,329.2 574.3,331.9 574.8,328.5 575.3,327.3 575.8,330.6 576.3,328.3 576.8,329.3 577.3,331.4 577.8,328.8 578.3,331.3 578.8,329.0 579.3,332.2 579.8,332.0 580.3,329.3 580.8,329.7 581.3,328.8 581.8,330.3 582.3,331.7 582.8,327.8 583.3,331.4 583.8,328.0 584.3,328.7 584.8,327.3 585.3,333.2 585.8,330.1 586.3,330.4 586.8,329.0 587.3,331.6 587.8,326.8 588.3,330.0 588.8,333.3 589.3,329.4 589.8,330.0 590.3,331.0 590.8,328.8 591.3,330.0 591.8,331.4 592.3,330.3 592.8,330.6 593.3,329.5 593.8,330.5 594.3,330.1 594.8,332.2 595.3,331.1 595.8,329.6 596.3,326.3 596.8,331.1 597.3,331.1 597.8,328.6 598.3,327.0 598.8,328.3 599.3,331.4 599.8,328.4 600.3,329.3 600.8,330.3 601.3,331.8 601.8,330.0 602.3,329.8 602.8,329.2 603.3,332.4 603.8,331.6 604.3,329.9 604.8,327.9 605.3,328.8 605.8,330.9 606.3,328.9 606.8,331.3 607.3,330.5 607.8,330.4 608.3,331.0 608.8,330.7 609.3,328.7 609.8,329.5 610.3,333.5 610.8,328.2 611.3,329.3 611.8,331.6 612.3,329.8 612.8,328.8 613.3,328.0 613.8,330.8 614.3,331.5 614.8,332.0 615.3,330.0 615.8,331.4 616.3,328.3 616.8,330.0 617.3,328.7 617.8,329.9 618.3,330.7 618.8,331.1 619.3,328.0 619.8,331.2 620.3,328.3 620.8,327.2 621.3,328.1 621.8,325.9 622.3,327.8 622.8,328.0 623.3,326.9 623.8,327.7 624.3,326.1 624.8,326.4 625.3,324.1 625.8,326.4 626.3,325.3 626.8,326.2 627.3,327.0 627.8,327.8 628.3,325.4 628.8,325.8 629.3,328.1 629.8,329.6 630.3,329.8 630.8,330.9 631.3,331.8 631.8,330.7 632.3,330.0 632.8,328.5 633.3,328.6 633.8,329.3 634.3,330.4 634.8,330.3 635.3,330.0 635.8,329.8 636.3,330.9 636.8,330.3 637.3,330.4 637.8,330.5 638.3,329.2 638.8,328.5 639.3,330.7 639.8,330.6 640.3,329.7 640.8,329.4 641.3,333.4 641.8,328.9 642.3,329.7 642.8,330.4 643.3,328.3 643.8,330.2 644.3,332.7 644.8,331.4 645.3,330.9 645.8,330.9 646.3,330.2 646.8,331.4 647.3,329.8 647.8,329.4 648.3,330.2 648.8,331.4 649.3,330.5 649.8,331.0 650.3,327.0 650.8,331.7 651.3,333.3 651.8,331.7 652.3,329.0 652.8,328.0 653.3,329.5 653.8,327.3 654.3,329.6 654.8,327.5 655.3,329.4 655.8,329.7 656.3,324.3 656.8,327.4 657.3,325.5 657.8,324.0 658.3,324.6 658.8,324.7 659.3,326.0 659.8,321.5 660.3,323.1 660.8,322.3 661.3,321.5 661.8,320.7 662.3,319.8 662.8,318.9 663.3,318.0 663.8,317.0 664.3,315.9 664.8,314.9 665.3,313.6 665.8,312.3 666.3,310.7 666.8,309.0 667.3,307.2 667.8,305.1 668.3,302.9 668.8,300.5 669.3,297.9 669.8,295.1 670.3,291.9 670.8,287.3 671.3,281.8 671.8,276.7 672.3,272.8 672.8,269.5 673.3,266.5 673.8,263.3 674.3,259.5 674.8,255.0 675.3,250.0 675.8,244.5 676.3,238.7 676.8,232.5 677.3,225.9 677.8,218.1 678.3,210.0 678.8,202.5 679.3,196.2 679.8,189.6 680.3,183.8 680.8,180.0 681.3,179.6 681.8,182.4 682.3,187.2 682.8,192.9 683.3,198.2 683.8,202.4 684.3,206.2 684.8,210.0 685.3,213.6 685.8,217.3 686.3,220.9 686.8,224.6 687.3,228.4 687.8,232.4 688.3,236.6 688.8,241.0 689.3,245.4 689.8,249.9 690.3,254.2 690.8,258.3 691.3,262.2 691.8,265.7 692.3,269.2 692.8,272.8 693.3,276.3 693.8,279.4 694.3,281.9 694.8,283.6 695.3,284.5 695.8,285.2 696.3,285.9 696.8,286.5 697.3,287.1 697.8,287.5 698.3,287.9 698.8,288.2 699.3,288.4 699.8,288.5 700.3,288.5 700.8,288.4 701.3,288.1 701.8,287.8 702.3,287.4 702.8,286.8 703.3,286.2 703.8,285.6 704.3,284.8 704.8,283.4 705.3,281.1 705.8,278.2 706.3,274.8 706.8,271.1 707.3,267.3 707.8,263.5 708.3,259.2 708.8,254.4 709.3,249.2 709.8,243.7 710.3,238.0 710.8,232.3 711.3,226.4 711.8,220.1 712.3,213.5 712.8,207.3 713.3,201.5 713.8,195.0 714.3,188.4 714.8,182.1 715.3,177.0 715.8,173.4 716.3,172.1 716.8,173.6 717.3,177.7 717.8,183.5 718.3,190.3 718.8,197.3 719.3,204.1 719.8,211.5 720.3,220.1 720.8,230.4 721.3,243.9 721.8,263.4 722.3,283.3 722.8,299.9 723.3,315.4 723.8,322.3 724.3,324.2 724.8,325.7 725.3,326.8 725.8,327.7 726.3,328.3 726.8,328.8 727.3,329.3 727.8,329.7 728.3,329.5 728.8,331.3 729.3,331.0 729.8,326.6 730.3,330.2 730.8,333.7 731.3,330.2 731.8,330.7 732.3,329.8 732.8,330.0 733.3,333.2 733.8,330.4 734.3,328.9 734.8,324.7 735.3,329.7 735.8,326.9 736.3,327.2 736.8,332.4 737.3,332.2 737.8,326.9 738.3,332.4 738.8,331.5 739.3,329.0 739.8,332.0 740.3,327.3 740.8,328.1 741.3,327.5 741.8,328.2 742.3,332.1 742.8,327.6 743.3,327.9 743.8,328.3 744.3,330.5 744.8,329.4 745.3,331.8 745.8,328.6 746.3,327.4 746.8,328.9 747.3,329.9 747.8,327.9 748.3,330.3 748.8,333.3 749.3,328.5 749.8,329.7 750.3,332.3 750.8,328.2 751.3,327.8 751.8,327.2 752.3,330.2 752.8,330.4 753.3,329.0 753.8,329.3 754.3,331.8 754.8,330.9 755.3,326.3 755.8,329.1 756.3,329.3 756.8,330.5 757.3,328.6 757.8,327.7 758.3,328.1 758.8,325.4 759.3,328.9 759.8,327.8 760.3,329.9 760.8,326.9 761.3,328.0 761.8,327.0 762.3,326.8 762.8,330.3 763.3,328.0 763.8,329.8 764.3,326.6 764.8,329.0 765.3,325.5 765.8,327.9 766.3,327.8 766.8,330.0 767.3,329.2 767.8,328.5 768.3,330.5 768.8,329.2 769.3,329.9 769.8,330.3 770.3,328.6 770.8,328.2 771.3,329.4 771.8,327.9 772.3,329.5 772.8,330.9 773.3,330.4 773.8,327.9 774.3,326.1 774.8,328.6 775.3,328.4 775.8,330.9 776.3,327.9 776.8,328.3 777.3,330.1 777.8,327.7 778.3,328.3 778.8,332.1 779.3,331.6 779.8,329.9 780.3,329.2 780.8,326.7 781.3,329.7 781.8,328.7 782.3,329.0 782.8,327.6 783.3,328.6 783.8,328.2 784.3,329.2 784.8,331.4 785.3,329.3 785.8,325.3 786.3,326.6 786.8,325.4 787.3,327.0 787.8,329.7 788.3,329.3 788.8,327.3 789.3,329.1 789.8,327.0 790.3,325.7 790.8,325.7 791.3,326.8 791.8,331.4 792.3,325.8 792.8,331.0 793.3,331.2 793.8,328.1 794.3,328.4 794.8,327.3 795.3,328.4 795.8,329.8 796.3,328.5 796.8,330.5 797.3,330.8 797.8,329.2 798.3,329.1 798.8,328.3 799.3,329.2 799.8,326.2 800.3,329.3 800.8,328.9 801.3,326.7 801.8,332.7 802.3,326.5 802.8,326.7 803.3,329.0 803.8,324.6 804.3,326.9 804.8,325.4 805.3,326.5 805.8,328.2 806.3,329.1 806.8,330.6 807.3,330.0 807.8,330.8 808.3,329.6 808.8,327.5 809.3,330.6 809.8,327.4 810.3,327.2 810.8,331.5 811.3,330.0 811.8,328.8 812.3,329.9 812.8,330.2 813.3,325.7 813.8,328.2 814.3,326.0 814.8,328.6 815.3,327.1 815.8,331.1 816.3,329.4 816.8,326.8 817.3,328.4 817.8,326.0 818.3,328.5 818.8,329.5 819.3,328.9 819.8,324.5 820.3,327.7 820.8,329.4 821.3,329.0 821.8,330.7 822.3,325.8 822.8,329.5 823.3,327.1 823.8,328.8 824.3,329.3 824.8,329.8 825.3,327.3 825.8,328.9 826.3,326.2 826.8,325.7 827.3,329.6 827.8,328.4 828.3,325.3 828.8,326.9 829.3,328.6 829.8,331.7 830.3,330.7 830.8,330.3 831.3,325.1 831.8,328.5 832.3,329.7 832.8,329.5 833.3,329.6 833.8,328.3 834.3,332.3 834.8,331.8 835.3,328.6 835.8,326.9 836.3,332.9 836.8,327.7 837.3,331.3 837.8,332.7 838.3,327.0 838.8,329.5 839.3,328.2 839.8,329.9 840.3,329.5 840.8,332.8 841.3,330.0 841.8,328.8 842.3,331.0 842.8,328.2 843.3,327.9 843.8,333.0 844.3,326.8 844.8,327.4 845.3,328.3 845.8,326.0 846.3,323.8 846.8,330.0 847.3,326.2 847.8,326.5 848.3,326.7 848.8,325.3 849.3,325.0 849.8,327.3 850.3,332.3 850.8,328.3 851.3,328.1 851.8,322.7 852.3,325.9 852.8,323.1 853.3,327.4 853.8,324.9 854.3,325.3 854.8,324.8 855.3,323.4 855.8,321.1 856.3,325.7 856.8,320.9 857.3,321.2 857.8,323.0 858.3,321.9 858.8,323.8 859.3,325.3 859.8,323.2 860.3,322.8 860.8,322.0 861.3,323.6 861.8,317.0 862.3,321.7 862.8,318.3 863.3,317.2 863.8,319.6 864.3,318.3 864.8,320.1 865.3,320.9 865.8,312.6 866.3,317.4 866.8,321.7 867.3,318.8 867.8,319.7 868.3,316.3 868.8,312.4 869.3,312.8 869.8,316.8 870.3,317.1 870.8,312.9 871.3,313.8 871.8,314.7 872.3,309.9 872.8,312.8 873.3,317.1 873.8,318.2 874.3,312.7 874.8,316.9 875.3,311.2 875.8,310.3 876.3,306.8 876.8,314.0 877.3,310.7 877.8,316.8 878.3,312.0 878.8,311.5 879.3,306.7 879.8,314.2 880.3,309.8 880.8,310.1 881.3,305.3 881.8,312.5 882.3,312.6 882.8,308.9 883.3,310.5 883.8,311.3 884.3,312.7 884.8,311.0 885.3,315.0 885.8,310.8 886.3,310.4 886.8,311.2 887.3,306.9 887.8,311.4 888.3,316.2 888.8,315.0 889.3,313.1 889.8,316.4 890.3,311.6 890.8,316.2 891.3,318.7 891.8,319.7 892.3,316.9 892.8,321.5 893.3,324.5 893.8,320.1 894.3,323.8 894.8,319.5 895.3,319.6 895.8,326.5 896.3,326.1 896.8,327.3 897.3,326.3 897.8,327.6 898.3,330.6 898.8,333.0 899.3,328.6 899.8,325.1 900.3,331.5 900.8,329.4 901.3,328.9 901.8,327.0 902.3,331.0 902.8,324.9 903.3,324.8 903.8,318.4 904.3,320.3 904.8,319.0 905.3,319.6 905.8,319.6 906.3,316.3 906.8,321.4 907.3,314.5 907.8,315.6 908.3,317.1 908.8,313.7 909.3,318.0 909.8,318.2 910.3,316.1 910.8,321.3 911.3,317.2 911.8,317.8 912.3,315.0 912.8,313.6 913.3,316.3 913.8,317.5 914.3,317.9 914.8,321.6 915.3,315.3 915.8,319.4 916.3,319.1 916.8,327.8 917.3,324.9 917.8,326.6 918.3,326.9 918.8,333.2" fill="none" stroke="#0000ff" stroke-width="2.1" stroke-linejoin="round" stroke-linecap="round" /><polyline points="562.3,264.0 562.8,283.7 563.3,299.8 563.8,312.0 564.3,321.5 564.8,327.0 565.3,330.6 565.8,331.0 566.3,330.5 566.8,332.0 567.3,331.4 567.8,330.0 568.3,330.3 568.8,329.2 569.3,331.3 569.8,331.6 570.3,329.9 570.8,333.3 571.3,327.1 571.8,329.4 572.3,332.9 572.8,329.0 573.3,326.9 573.8,332.2 574.3,330.7 574.8,327.5 575.3,331.1 575.8,327.8 576.3,327.2 576.8,329.3 577.3,328.7 577.8,327.6 578.3,328.9 578.8,327.7 579.3,329.7 579.8,329.5 580.3,330.9 580.8,328.7 581.3,327.1 581.8,327.1 582.3,329.0 582.8,332.2 583.3,331.0 583.8,328.3 584.3,331.2 584.8,327.4 585.3,331.3 585.8,328.7 586.3,330.8 586.8,330.5 587.3,328.9 587.8,330.0 588.3,327.5 588.8,329.3 589.3,331.4 589.8,336.8 590.3,330.7 590.8,329.6 591.3,327.6 591.8,331.3 592.3,326.4 592.8,328.0 593.3,330.1 593.8,327.2 594.3,332.2 594.8,331.4 595.3,328.4 595.8,328.4 596.3,327.0 596.8,326.9 597.3,330.2 597.8,330.5 598.3,330.1 598.8,329.9 599.3,328.4 599.8,330.1 600.3,326.8 600.8,329.4 601.3,332.1 601.8,331.8 602.3,328.6 602.8,328.8 603.3,331.9 603.8,332.6 604.3,326.7 604.8,328.6 605.3,329.8 605.8,331.6 606.3,327.9 606.8,330.6 607.3,328.9 607.8,333.7 608.3,330.2 608.8,329.2 609.3,328.8 609.8,331.3 610.3,330.6 610.8,327.5 611.3,329.8 611.8,327.0 612.3,328.1 612.8,327.1 613.3,327.0 613.8,328.2 614.3,327.6 614.8,330.4 615.3,330.9 615.8,329.0 616.3,327.4 616.8,330.9 617.3,325.8 617.8,325.9 618.3,330.7 618.8,330.1 619.3,328.0 619.8,322.4 620.3,317.6 620.8,316.8 621.3,317.1 621.8,314.5 622.3,314.7 622.8,313.4 623.3,313.8 623.8,317.4 624.3,316.7 624.8,313.8 625.3,314.0 625.8,314.9 626.3,316.9 626.8,313.8 627.3,315.6 627.8,312.0 628.3,313.6 628.8,316.7 629.3,317.9 629.8,315.7 630.3,318.6 630.8,324.1 631.3,325.9 631.8,328.6 632.3,330.9 632.8,330.3 633.3,331.9 633.8,331.4 634.3,328.9 634.8,329.7 635.3,329.8 635.8,327.5 636.3,328.2 636.8,331.7 637.3,327.1 637.8,331.7 638.3,330.4 638.8,329.7 639.3,330.9 639.8,330.8 640.3,332.1 640.8,329.2 641.3,329.5 641.8,329.5 642.3,333.3 642.8,331.6 643.3,328.3 643.8,329.3 644.3,328.6 644.8,329.9 645.3,330.3 645.8,334.1 646.3,326.6 646.8,331.8 647.3,330.7 647.8,328.6 648.3,329.6 648.8,328.9 649.3,329.9 649.8,331.5 650.3,326.9 650.8,332.0 651.3,328.9 651.8,332.2 652.3,330.2 652.8,331.6 653.3,330.1 653.8,330.5 654.3,327.8 654.8,325.2 655.3,326.8 655.8,325.6 656.3,326.7 656.8,317.9 657.3,319.7 657.8,320.5 658.3,317.2 658.8,315.8 659.3,314.5 659.8,313.2 660.3,311.8 660.8,310.4 661.3,308.9 661.8,307.4 662.3,305.9 662.8,304.2 663.3,302.5 663.8,300.7 664.3,298.9 664.8,297.1 665.3,295.3 665.8,293.3 666.3,291.0 666.8,288.3 667.3,285.0 667.8,280.1 668.3,273.0 668.8,264.5 669.3,255.4 669.8,246.4 670.3,237.0 670.8,226.9 671.3,216.3 671.8,205.4 672.3,194.4 672.8,183.2 673.3,171.4 673.8,159.3 674.3,147.6 674.8,136.9 675.3,127.5 675.8,118.7 676.3,110.3 676.8,102.3 677.3,94.8 677.8,87.7 678.3,80.7 678.8,73.0 679.3,65.3 679.8,58.7 680.3,54.0 680.8,52.2 681.3,54.5 681.8,60.5 682.3,68.5 682.8,76.9 683.3,84.8 683.8,94.0 684.3,104.0 684.8,114.3 685.3,124.3 685.8,133.4 686.3,141.3 686.8,148.8 687.3,155.9 687.8,162.7 688.3,169.3 688.8,175.8 689.3,182.4 689.8,189.0 690.3,195.9 690.8,202.9 691.3,209.8 691.8,216.4 692.3,222.7 692.8,228.3 693.3,233.3 693.8,237.5 694.3,241.5 694.8,245.2 695.3,248.3 695.8,250.5 696.3,251.6 696.8,252.6 697.3,253.5 697.8,254.3 698.3,255.0 698.8,255.5 699.3,255.8 699.8,256.0 700.3,256.0 700.8,255.8 701.3,255.5 701.8,255.1 702.3,254.6 702.8,253.8 703.3,253.0 703.8,252.0 704.3,250.0 704.8,244.6 705.3,237.7 705.8,230.9 706.3,223.3 706.8,214.9 707.3,206.1 707.8,197.1 708.3,188.4 708.8,180.0 709.3,171.9 709.8,163.8 710.3,155.7 710.8,147.3 711.3,138.6 711.8,129.4 712.3,119.4 712.8,109.0 713.3,98.7 713.8,88.8 714.3,79.1 714.8,68.1 715.3,56.9 715.8,47.1 716.3,40.1 716.8,37.4 717.3,41.7 717.8,52.3 718.3,66.2 718.8,80.1 719.3,91.5 719.8,101.6 720.3,112.2 720.8,125.3 721.3,143.5 721.8,172.8 722.3,202.8 722.8,235.0 723.3,278.1 723.8,300.2 724.3,311.5 724.8,316.5 725.3,319.8 725.8,322.0 726.3,323.5 726.8,324.6 727.3,325.6 727.8,326.4 728.3,325.3 728.8,329.9 729.3,326.6 729.8,330.8 730.3,324.2 730.8,326.2 731.3,331.1 731.8,328.5 732.3,327.4 732.8,329.9 733.3,326.7 733.8,329.4 734.3,324.2 734.8,328.3 735.3,327.9 735.8,330.7 736.3,331.6 736.8,327.6 737.3,333.4 737.8,328.3 738.3,325.0 738.8,324.3 739.3,333.4 739.8,329.6 740.3,328.4 740.8,328.2 741.3,327.4 741.8,333.1 742.3,329.8 742.8,334.1 743.3,329.5 743.8,324.6 744.3,331.9 744.8,329.2 745.3,329.5 745.8,333.6 746.3,329.4 746.8,332.6 747.3,329.9 747.8,328.2 748.3,331.0 748.8,328.5 749.3,332.6 749.8,332.0 750.3,329.9 750.8,331.1 751.3,330.9 751.8,328.9 752.3,331.5 752.8,328.9 753.3,330.8 753.8,327.1 754.3,329.4 754.8,330.1 755.3,327.2 755.8,328.0 756.3,327.7 756.8,330.5 757.3,327.1 757.8,329.6 758.3,332.1 758.8,329.3 759.3,324.7 759.8,328.6 760.3,330.6 760.8,327.5 761.3,330.6 761.8,329.4 762.3,328.8 762.8,327.2 763.3,326.5 763.8,327.0 764.3,327.7 764.8,328.7 765.3,328.3 765.8,326.6 766.3,327.4 766.8,328.1 767.3,323.4 767.8,325.3 768.3,325.1 768.8,326.4 769.3,326.2 769.8,326.2 770.3,324.8 770.8,328.3 771.3,327.3 771.8,322.9 772.3,326.6 772.8,324.0 773.3,330.5 773.8,325.5 774.3,325.6 774.8,326.7 775.3,326.1 775.8,326.4 776.3,330.1 776.8,327.1 777.3,328.5 777.8,329.2 778.3,324.4 778.8,330.5 779.3,328.2 779.8,328.9 780.3,324.7 780.8,328.6 781.3,327.7 781.8,325.6 782.3,332.1 782.8,328.2 783.3,326.4 783.8,327.4 784.3,329.1 784.8,329.7 785.3,328.4 785.8,329.9 786.3,330.6 786.8,324.4 787.3,326.2 787.8,325.2 788.3,327.6 788.8,330.7 789.3,329.0 789.8,325.1 790.3,326.9 790.8,330.0 791.3,326.4 791.8,327.4 792.3,328.4 792.8,323.6 793.3,329.6 793.8,328.6 794.3,329.2 794.8,325.6 795.3,326.1 795.8,326.6 796.3,328.5 796.8,328.1 797.3,328.3 797.8,332.1 798.3,331.0 798.8,326.4 799.3,326.5 799.8,332.0 800.3,327.3 800.8,331.2 801.3,331.7 801.8,326.8 802.3,327.4 802.8,328.2 803.3,326.0 803.8,325.8 804.3,327.1 804.8,330.0 805.3,327.0 805.8,327.5 806.3,326.9 806.8,324.8 807.3,331.4 807.8,322.6 808.3,326.4 808.8,329.2 809.3,324.7 809.8,329.3 810.3,330.8 810.8,325.9 811.3,328.3 811.8,325.3 812.3,329.0 812.8,328.0 813.3,328.3 813.8,330.9 814.3,328.8 814.8,330.8 815.3,329.2 815.8,324.9 816.3,328.3 816.8,328.8 817.3,324.3 817.8,330.7 818.3,327.8 818.8,328.4 819.3,325.5 819.8,327.7 820.3,328.2 820.8,326.8 821.3,327.7 821.8,322.6 822.3,330.6 822.8,324.9 823.3,322.4 823.8,325.2 824.3,325.4 824.8,328.6 825.3,325.2 825.8,327.9 826.3,325.0 826.8,332.3 827.3,328.4 827.8,331.6 828.3,324.7 828.8,328.6 829.3,324.8 829.8,328.3 830.3,328.5 830.8,323.2 831.3,324.3 831.8,324.2 832.3,323.3 832.8,325.1 833.3,324.5 833.8,323.4 834.3,326.9 834.8,327.9 835.3,323.6 835.8,325.3 836.3,326.6 836.8,326.1 837.3,325.0 837.8,328.4 838.3,328.5 838.8,328.1 839.3,326.1 839.8,331.1 840.3,330.5 840.8,325.6 841.3,326.3 841.8,329.4 842.3,324.8 842.8,327.7 843.3,326.9 843.8,325.3 844.3,326.5 844.8,323.5 845.3,326.0 845.8,322.7 846.3,332.7 846.8,331.0 847.3,330.5 847.8,328.4 848.3,330.1 848.8,330.9 849.3,330.3 849.8,330.2 850.3,325.9 850.8,329.3 851.3,326.9 851.8,325.3 852.3,325.5 852.8,329.4 853.3,330.8 853.8,324.4 854.3,331.7 854.8,330.3 855.3,325.0 855.8,324.0 856.3,324.1 856.8,325.8 857.3,321.5 857.8,318.7 858.3,321.5 858.8,314.6 859.3,319.3 859.8,321.2 860.3,318.3 860.8,318.8 861.3,317.3 861.8,317.0 862.3,314.8 862.8,311.5 863.3,312.1 863.8,311.7 864.3,314.2 864.8,314.3 865.3,310.6 865.8,306.9 866.3,306.3 866.8,307.1 867.3,310.5 867.8,307.5 868.3,306.2 868.8,304.1 869.3,308.1 869.8,306.6 870.3,305.9 870.8,306.5 871.3,310.8 871.8,306.6 872.3,311.8 872.8,311.3 873.3,308.9 873.8,311.7 874.3,309.9 874.8,308.9 875.3,311.0 875.8,310.1 876.3,314.4 876.8,313.8 877.3,315.9 877.8,317.1 878.3,307.8 878.8,316.9 879.3,312.2 879.8,317.7 880.3,315.7 880.8,318.7 881.3,322.4 881.8,315.3 882.3,320.6 882.8,320.5 883.3,316.5 883.8,323.4 884.3,322.4 884.8,321.6 885.3,321.5 885.8,331.8 886.3,323.3 886.8,320.3 887.3,322.9 887.8,324.9 888.3,325.4 888.8,326.6 889.3,324.7 889.8,329.2 890.3,327.1 890.8,325.3 891.3,327.1 891.8,328.5 892.3,331.8 892.8,331.1 893.3,329.2 893.8,330.1 894.3,330.5 894.8,334.6 895.3,327.3 895.8,329.1 896.3,328.7 896.8,323.2 897.3,324.7 897.8,323.1 898.3,319.8 898.8,320.7 899.3,320.1 899.8,318.6 900.3,313.5 900.8,312.7 901.3,316.4 901.8,306.1 902.3,307.9 902.8,308.1 903.3,304.9 903.8,304.6 904.3,301.7 904.8,301.5 905.3,301.0 905.8,295.5 906.3,294.8 906.8,292.5 907.3,290.0 907.8,289.4 908.3,285.3 908.8,288.8 909.3,290.2 909.8,289.4 910.3,287.8 910.8,282.0 911.3,288.5 911.8,284.1 912.3,287.7 912.8,295.1 913.3,290.9 913.8,299.1 914.3,301.4 914.8,304.1 915.3,306.0 915.8,312.7 916.3,313.7 916.8,320.6 917.3,324.1 917.8,320.8 918.3,326.2 918.8,329.9" fill="none" stroke="#ff0000" stroke-width="2.1" stroke-linejoin="round" stroke-linecap="round" /></g><rect x="562" y="37.2" width="356" height="306.5" fill="none" stroke="#000" stroke-width="2.7"/><text transform="translate(556.2,335.8) scale(0.915,1)" font-size="20" text-anchor="end" fill="#000" font-family="Liberation Serif" font-weight="bold" >0.00</text><text transform="translate(556.2,266.2) scale(0.915,1)" font-size="20" text-anchor="end" fill="#000" font-family="Liberation Serif" font-weight="bold" >2.50k</text><text transform="translate(556.2,196.6) scale(0.915,1)" font-size="20" text-anchor="end" fill="#000" font-family="Liberation Serif" font-weight="bold" >5.00k</text><text transform="translate(556.2,127.0) scale(0.915,1)" font-size="20" text-anchor="end" fill="#000" font-family="Liberation Serif" font-weight="bold" >7.50k</text><text transform="translate(556.2,57.4) scale(0.915,1)" font-size="20" text-anchor="end" fill="#000" font-family="Liberation Serif" font-weight="bold" >10.00k</text><text transform="translate(630.8,366.2) scale(0.915,1)" font-size="20" text-anchor="middle" fill="#000" font-family="Liberation Serif" font-weight="bold" >1000</text><text transform="translate(702.5,366.2) scale(0.915,1)" font-size="20" text-anchor="middle" fill="#000" font-family="Liberation Serif" font-weight="bold" >1500</text><text transform="translate(774.3,366.2) scale(0.915,1)" font-size="20" text-anchor="middle" fill="#000" font-family="Liberation Serif" font-weight="bold" >2000</text><text transform="translate(846.0,366.2) scale(0.915,1)" font-size="20" text-anchor="middle" fill="#000" font-family="Liberation Serif" font-weight="bold" >2500</text><text transform="translate(917.8,366.2) scale(0.915,1)" font-size="20" text-anchor="middle" fill="#000" font-family="Liberation Serif" font-weight="bold" >3000</text><text transform="translate(640,406) scale(0.93,1)" font-size="25" font-family="Liberation Serif" font-weight="bold">Wavenumbers(cm<tspan font-size="15" dy="-12">-1</tspan><tspan dy="12">)</tspan></text><text transform="translate(506,227.5) rotate(-90) scale(1.04,1)" font-size="25.5" font-family="Liberation Serif" font-weight="bold">Intensity</text><text x="460" y="46.7" font-size="25.5" text-anchor="start" fill="#000" font-family="Liberation Serif" font-weight="bold" >(b)</text><rect x="779.1" y="57.6" width="105.7" height="74.2" fill="#fff" stroke="#555" stroke-width="1"/><line x1="784" y1="69.8" x2="818.5" y2="69.8" stroke="#000" stroke-width="2.2"/><line x1="784" y1="95.7" x2="818.5" y2="95.7" stroke="#0000ff" stroke-width="2.2"/><line x1="784" y1="118.9" x2="818.5" y2="118.9" stroke="#ff0000" stroke-width="2.2"/><text transform="translate(821.5,76.3) scale(0.945,1)" font-size="17" font-family="Liberation Serif" font-weight="bold" >Ti<tspan font-size="10.5" dy="4.2">2</tspan><tspan dy="-4.2">C</tspan></text><text transform="translate(821.5,102.8) scale(0.945,1)" font-size="17" text-anchor="start" fill="#000" font-family="Liberation Serif" font-weight="bold" >GO</text><text transform="translate(821.5,124.3) scale(0.945,1)" font-size="17" font-family="Liberation Serif" font-weight="bold" >Ti<tspan font-size="10.5" dy="4.2">2</tspan><tspan dy="-4.2">C-GO</tspan></text></g></svg></body></html>
